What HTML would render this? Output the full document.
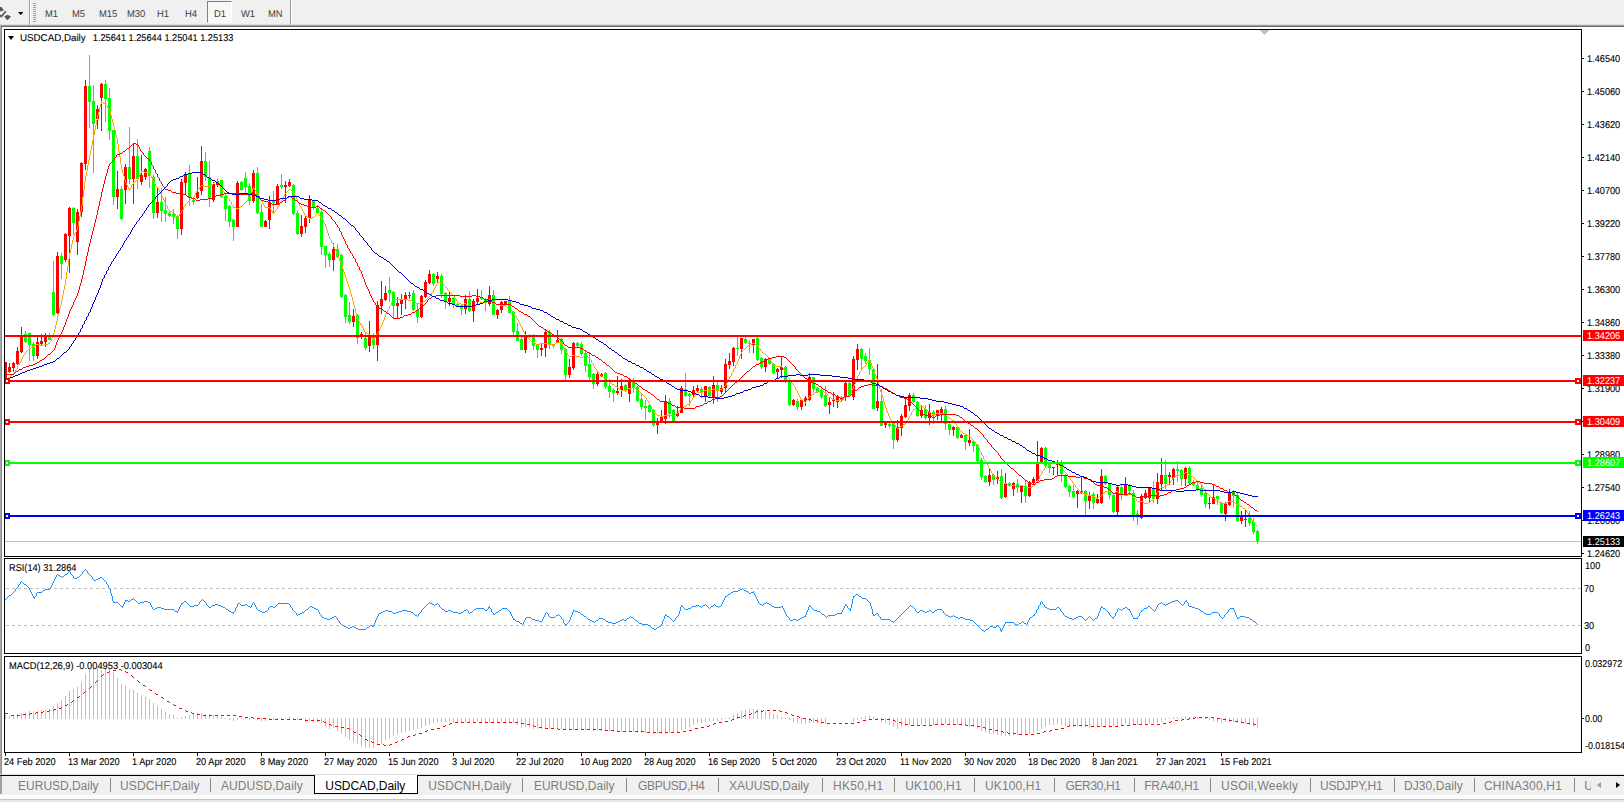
<!DOCTYPE html><html><head><meta charset="utf-8"><title>USDCAD,Daily</title><style>
html,body{margin:0;padding:0;}
body{width:1624px;height:802px;overflow:hidden;background:#fff;position:relative;font-family:"Liberation Sans",sans-serif;}
.a{position:absolute;}
.t{position:absolute;white-space:nowrap;font-size:9.9px;line-height:13px;color:#000;-webkit-text-stroke:0.1px #000;text-rendering:geometricPrecision;transform:scaleX(0.931);transform-origin:0 0;}
.tb{position:absolute;white-space:nowrap;font-size:9.9px;line-height:13px;color:#3c3c3c;top:8px;text-rendering:geometricPrecision;transform:scaleX(0.95);transform-origin:0 0;}
.pl{position:absolute;left:1583px;width:41px;height:11px;color:#fff;font-size:9.9px;line-height:11px;white-space:nowrap;text-rendering:geometricPrecision;}
.pl span{position:absolute;left:4px;top:1px;transform:scaleX(0.931);transform-origin:0 0;}
.tab{position:absolute;top:779px;font-size:12px;line-height:14px;color:#7d7d7d;white-space:nowrap;}
.sep{position:absolute;top:778px;width:1px;height:14px;background:#8a8a8a;}
svg{position:absolute;left:0;top:0;}
</style></head><body>
<div class="a" style="left:0;top:0;width:1624px;height:24px;background:#f0f0f0"></div>
<div class="a" style="left:0;top:24px;width:1624px;height:1px;background:#dddddd"></div>
<div class="a" style="left:0;top:25px;width:1624px;height:1px;background:#a0a0a0"></div>
<div class="a" style="left:0;top:26px;width:1624px;height:1px;background:#696969"></div>
<div class="a" style="left:0;top:26px;width:1px;height:748px;background:#a8a8a8"></div>
<div class="a" style="left:1px;top:27px;width:1px;height:747px;background:#8c8c8c"></div>
<div class="a" style="left:29px;top:0;width:1px;height:25px;background:#a0a0a0"></div>
<div class="a" style="left:30px;top:0;width:1px;height:25px;background:#ffffff"></div>
<div class="a" style="left:33px;top:3px;width:3px;height:1px;background:#a0a0a0"></div>
<div class="a" style="left:33px;top:5px;width:3px;height:1px;background:#a0a0a0"></div>
<div class="a" style="left:33px;top:7px;width:3px;height:1px;background:#a0a0a0"></div>
<div class="a" style="left:33px;top:9px;width:3px;height:1px;background:#a0a0a0"></div>
<div class="a" style="left:33px;top:11px;width:3px;height:1px;background:#a0a0a0"></div>
<div class="a" style="left:33px;top:13px;width:3px;height:1px;background:#a0a0a0"></div>
<div class="a" style="left:33px;top:15px;width:3px;height:1px;background:#a0a0a0"></div>
<div class="a" style="left:33px;top:17px;width:3px;height:1px;background:#a0a0a0"></div>
<div class="a" style="left:33px;top:19px;width:3px;height:1px;background:#a0a0a0"></div>
<div class="a" style="left:33px;top:21px;width:3px;height:1px;background:#a0a0a0"></div>
<div class="a" style="left:290px;top:0;width:1px;height:25px;background:#a0a0a0"></div>
<div class="a" style="left:291px;top:0;width:1px;height:25px;background:#ffffff"></div>
<svg width="30" height="24" viewBox="0 0 30 24"><polygon points="0,7 1.4,7 3.9,10.2 1.3,11.3 0,11.3" fill="#555"/><polyline points="0,15.2 1.3,16.5 5.8,11.2" stroke="#555" stroke-width="1.7" fill="none"/><polygon points="4.2,16.4 7.5,14.8 11,16.4 7.5,20.2" fill="#555"/><polygon points="18,12 23.4,12 20.7,15" fill="#000"/></svg>
<div class="a" style="left:207px;top:1px;width:25px;height:22px;background:conic-gradient(#ffffff 25%,#f0f0f0 0 50%,#ffffff 0 75%,#f0f0f0 0) 0 0/2px 2px;border-left:1px solid #808080;border-top:1px solid #808080;border-right:1px solid #fff;border-bottom:1px solid #fff;box-sizing:border-box"></div>
<div class="tb" style="left:44.7px">M1</div>
<div class="tb" style="left:72px">M5</div>
<div class="tb" style="left:98.8px">M15</div>
<div class="tb" style="left:126.5px">M30</div>
<div class="tb" style="left:157.4px">H1</div>
<div class="tb" style="left:184.7px">H4</div>
<div class="tb" style="left:213.5px">D1</div>
<div class="tb" style="left:241px">W1</div>
<div class="tb" style="left:267.8px">MN</div>
<svg width="1624" height="802" viewBox="0 0 1624 802" shape-rendering="crispEdges"><rect x="5" y="541" width="1576" height="1" fill="#c0c0c0"/>
<rect x="5" y="362" width="1" height="16" fill="#ff0000"/>
<rect x="5" y="362" width="2" height="16" fill="#ff0000"/>
<rect x="9" y="363" width="1" height="10" fill="#ff0000"/>
<rect x="8" y="367" width="3" height="5" fill="#ff0000"/>
<rect x="13" y="362" width="1" height="10" fill="#ff0000"/>
<rect x="12" y="363" width="3" height="5" fill="#ff0000"/>
<rect x="17" y="347" width="1" height="18" fill="#ff0000"/>
<rect x="16" y="351" width="3" height="13" fill="#ff0000"/>
<rect x="21" y="327" width="1" height="26" fill="#ff0000"/>
<rect x="20" y="336" width="3" height="16" fill="#ff0000"/>
<rect x="25" y="331" width="1" height="12" fill="#00ff00"/>
<rect x="24" y="334" width="3" height="8" fill="#00ff00"/>
<rect x="29" y="333" width="1" height="28" fill="#00ff00"/>
<rect x="28" y="333" width="3" height="12" fill="#00ff00"/>
<rect x="33" y="342" width="1" height="19" fill="#00ff00"/>
<rect x="32" y="344" width="3" height="12" fill="#00ff00"/>
<rect x="37" y="336" width="1" height="23" fill="#ff0000"/>
<rect x="36" y="342" width="3" height="14" fill="#ff0000"/>
<rect x="41" y="334" width="1" height="11" fill="#ff0000"/>
<rect x="40" y="341" width="3" height="3" fill="#ff0000"/>
<rect x="45" y="333" width="1" height="14" fill="#ff0000"/>
<rect x="44" y="336" width="3" height="6" fill="#ff0000"/>
<rect x="49" y="333" width="1" height="7" fill="#00ff00"/>
<rect x="48" y="336" width="3" height="4" fill="#00ff00"/>
<rect x="53" y="261" width="1" height="55" fill="#00ff00"/>
<rect x="52" y="292" width="3" height="23" fill="#00ff00"/>
<rect x="57" y="252" width="1" height="62" fill="#ff0000"/>
<rect x="56" y="256" width="3" height="57" fill="#ff0000"/>
<rect x="61" y="253" width="1" height="26" fill="#00ff00"/>
<rect x="60" y="256" width="3" height="8" fill="#00ff00"/>
<rect x="65" y="233" width="1" height="29" fill="#ff0000"/>
<rect x="64" y="234" width="3" height="26" fill="#ff0000"/>
<rect x="69" y="207" width="1" height="66" fill="#ff0000"/>
<rect x="68" y="208" width="3" height="28" fill="#ff0000"/>
<rect x="73" y="207" width="1" height="28" fill="#00ff00"/>
<rect x="72" y="208" width="3" height="15" fill="#00ff00"/>
<rect x="77" y="209" width="1" height="46" fill="#ff0000"/>
<rect x="76" y="212" width="3" height="30" fill="#ff0000"/>
<rect x="81" y="162" width="1" height="55" fill="#ff0000"/>
<rect x="80" y="163" width="3" height="49" fill="#ff0000"/>
<rect x="85" y="80" width="1" height="90" fill="#ff0000"/>
<rect x="84" y="86" width="3" height="78" fill="#ff0000"/>
<rect x="89" y="55" width="1" height="73" fill="#00ff00"/>
<rect x="88" y="86" width="3" height="16" fill="#00ff00"/>
<rect x="93" y="85" width="1" height="88" fill="#00ff00"/>
<rect x="92" y="101" width="3" height="23" fill="#00ff00"/>
<rect x="97" y="105" width="1" height="24" fill="#ff0000"/>
<rect x="96" y="109" width="3" height="10" fill="#ff0000"/>
<rect x="101" y="83" width="1" height="48" fill="#ff0000"/>
<rect x="100" y="84" width="3" height="14" fill="#ff0000"/>
<rect x="105" y="80" width="1" height="42" fill="#00ff00"/>
<rect x="104" y="84" width="3" height="15" fill="#00ff00"/>
<rect x="109" y="88" width="1" height="52" fill="#00ff00"/>
<rect x="108" y="98" width="3" height="33" fill="#00ff00"/>
<rect x="113" y="130" width="1" height="75" fill="#00ff00"/>
<rect x="112" y="130" width="3" height="67" fill="#00ff00"/>
<rect x="117" y="171" width="1" height="38" fill="#ff0000"/>
<rect x="116" y="189" width="3" height="8" fill="#ff0000"/>
<rect x="121" y="186" width="1" height="34" fill="#00ff00"/>
<rect x="120" y="189" width="3" height="30" fill="#00ff00"/>
<rect x="125" y="164" width="1" height="40" fill="#ff0000"/>
<rect x="124" y="167" width="3" height="23" fill="#ff0000"/>
<rect x="129" y="127" width="1" height="57" fill="#00ff00"/>
<rect x="128" y="167" width="3" height="12" fill="#00ff00"/>
<rect x="133" y="144" width="1" height="60" fill="#ff0000"/>
<rect x="132" y="156" width="3" height="23" fill="#ff0000"/>
<rect x="137" y="139" width="1" height="50" fill="#00ff00"/>
<rect x="136" y="156" width="3" height="23" fill="#00ff00"/>
<rect x="141" y="155" width="1" height="30" fill="#ff0000"/>
<rect x="140" y="175" width="3" height="7" fill="#ff0000"/>
<rect x="145" y="168" width="1" height="12" fill="#ff0000"/>
<rect x="144" y="169" width="3" height="8" fill="#ff0000"/>
<rect x="149" y="147" width="1" height="41" fill="#00ff00"/>
<rect x="148" y="151" width="3" height="25" fill="#00ff00"/>
<rect x="153" y="174" width="1" height="45" fill="#00ff00"/>
<rect x="152" y="177" width="3" height="36" fill="#00ff00"/>
<rect x="157" y="187" width="1" height="31" fill="#ff0000"/>
<rect x="156" y="202" width="3" height="11" fill="#ff0000"/>
<rect x="161" y="188" width="1" height="34" fill="#00ff00"/>
<rect x="160" y="202" width="3" height="9" fill="#00ff00"/>
<rect x="165" y="197" width="1" height="25" fill="#00ff00"/>
<rect x="164" y="210" width="3" height="4" fill="#00ff00"/>
<rect x="169" y="212" width="1" height="5" fill="#00ff00"/>
<rect x="168" y="213" width="3" height="3" fill="#00ff00"/>
<rect x="173" y="209" width="1" height="15" fill="#00ff00"/>
<rect x="172" y="214" width="3" height="3" fill="#00ff00"/>
<rect x="177" y="215" width="1" height="24" fill="#00ff00"/>
<rect x="176" y="216" width="3" height="13" fill="#00ff00"/>
<rect x="181" y="179" width="1" height="56" fill="#ff0000"/>
<rect x="180" y="182" width="3" height="47" fill="#ff0000"/>
<rect x="185" y="172" width="1" height="22" fill="#ff0000"/>
<rect x="184" y="174" width="3" height="9" fill="#ff0000"/>
<rect x="189" y="165" width="1" height="41" fill="#00ff00"/>
<rect x="188" y="174" width="3" height="24" fill="#00ff00"/>
<rect x="193" y="199" width="1" height="6" fill="#00ff00"/>
<rect x="192" y="200" width="3" height="2" fill="#00ff00"/>
<rect x="197" y="177" width="1" height="22" fill="#ff0000"/>
<rect x="196" y="192" width="3" height="6" fill="#ff0000"/>
<rect x="201" y="146" width="1" height="49" fill="#ff0000"/>
<rect x="200" y="161" width="3" height="30" fill="#ff0000"/>
<rect x="205" y="152" width="1" height="29" fill="#00ff00"/>
<rect x="204" y="161" width="3" height="16" fill="#00ff00"/>
<rect x="209" y="161" width="1" height="46" fill="#00ff00"/>
<rect x="208" y="177" width="3" height="22" fill="#00ff00"/>
<rect x="213" y="182" width="1" height="20" fill="#ff0000"/>
<rect x="212" y="184" width="3" height="16" fill="#ff0000"/>
<rect x="217" y="179" width="1" height="8" fill="#ff0000"/>
<rect x="216" y="181" width="3" height="4" fill="#ff0000"/>
<rect x="221" y="180" width="1" height="18" fill="#00ff00"/>
<rect x="220" y="180" width="3" height="17" fill="#00ff00"/>
<rect x="225" y="195" width="1" height="26" fill="#00ff00"/>
<rect x="224" y="196" width="3" height="13" fill="#00ff00"/>
<rect x="229" y="205" width="1" height="22" fill="#00ff00"/>
<rect x="228" y="206" width="3" height="16" fill="#00ff00"/>
<rect x="233" y="219" width="1" height="22" fill="#00ff00"/>
<rect x="232" y="220" width="3" height="7" fill="#00ff00"/>
<rect x="237" y="181" width="1" height="46" fill="#ff0000"/>
<rect x="236" y="183" width="3" height="44" fill="#ff0000"/>
<rect x="241" y="181" width="1" height="10" fill="#00ff00"/>
<rect x="240" y="182" width="3" height="8" fill="#00ff00"/>
<rect x="245" y="172" width="1" height="21" fill="#00ff00"/>
<rect x="244" y="178" width="3" height="9" fill="#00ff00"/>
<rect x="249" y="183" width="1" height="22" fill="#00ff00"/>
<rect x="248" y="186" width="3" height="15" fill="#00ff00"/>
<rect x="253" y="170" width="1" height="33" fill="#ff0000"/>
<rect x="252" y="173" width="3" height="28" fill="#ff0000"/>
<rect x="257" y="167" width="1" height="47" fill="#00ff00"/>
<rect x="256" y="173" width="3" height="40" fill="#00ff00"/>
<rect x="261" y="204" width="1" height="23" fill="#00ff00"/>
<rect x="260" y="212" width="3" height="15" fill="#00ff00"/>
<rect x="265" y="220" width="1" height="7" fill="#ff0000"/>
<rect x="264" y="221" width="3" height="6" fill="#ff0000"/>
<rect x="269" y="196" width="1" height="33" fill="#ff0000"/>
<rect x="268" y="202" width="3" height="18" fill="#ff0000"/>
<rect x="273" y="191" width="1" height="23" fill="#00ff00"/>
<rect x="272" y="200" width="3" height="3" fill="#00ff00"/>
<rect x="277" y="184" width="1" height="21" fill="#ff0000"/>
<rect x="276" y="186" width="3" height="19" fill="#ff0000"/>
<rect x="281" y="174" width="1" height="15" fill="#00ff00"/>
<rect x="280" y="185" width="3" height="2" fill="#00ff00"/>
<rect x="285" y="181" width="1" height="22" fill="#ff0000"/>
<rect x="284" y="185" width="3" height="2" fill="#ff0000"/>
<rect x="289" y="179" width="1" height="8" fill="#ff0000"/>
<rect x="288" y="182" width="3" height="4" fill="#ff0000"/>
<rect x="293" y="184" width="1" height="31" fill="#00ff00"/>
<rect x="292" y="185" width="3" height="29" fill="#00ff00"/>
<rect x="297" y="210" width="1" height="25" fill="#00ff00"/>
<rect x="296" y="213" width="3" height="21" fill="#00ff00"/>
<rect x="301" y="215" width="1" height="22" fill="#ff0000"/>
<rect x="300" y="226" width="3" height="8" fill="#ff0000"/>
<rect x="305" y="215" width="1" height="18" fill="#ff0000"/>
<rect x="304" y="218" width="3" height="9" fill="#ff0000"/>
<rect x="309" y="195" width="1" height="28" fill="#ff0000"/>
<rect x="308" y="200" width="3" height="18" fill="#ff0000"/>
<rect x="313" y="200" width="1" height="10" fill="#00ff00"/>
<rect x="312" y="201" width="3" height="7" fill="#00ff00"/>
<rect x="317" y="205" width="1" height="9" fill="#00ff00"/>
<rect x="316" y="208" width="3" height="5" fill="#00ff00"/>
<rect x="321" y="209" width="1" height="46" fill="#00ff00"/>
<rect x="320" y="212" width="3" height="35" fill="#00ff00"/>
<rect x="325" y="246" width="1" height="22" fill="#00ff00"/>
<rect x="324" y="246" width="3" height="9" fill="#00ff00"/>
<rect x="329" y="252" width="1" height="15" fill="#00ff00"/>
<rect x="328" y="254" width="3" height="6" fill="#00ff00"/>
<rect x="333" y="243" width="1" height="28" fill="#ff0000"/>
<rect x="332" y="249" width="3" height="11" fill="#ff0000"/>
<rect x="337" y="244" width="1" height="14" fill="#00ff00"/>
<rect x="336" y="249" width="3" height="8" fill="#00ff00"/>
<rect x="341" y="254" width="1" height="44" fill="#00ff00"/>
<rect x="340" y="255" width="3" height="42" fill="#00ff00"/>
<rect x="345" y="294" width="1" height="29" fill="#00ff00"/>
<rect x="344" y="295" width="3" height="22" fill="#00ff00"/>
<rect x="349" y="302" width="1" height="22" fill="#00ff00"/>
<rect x="348" y="315" width="3" height="7" fill="#00ff00"/>
<rect x="353" y="309" width="1" height="18" fill="#ff0000"/>
<rect x="352" y="316" width="3" height="6" fill="#ff0000"/>
<rect x="357" y="314" width="1" height="30" fill="#00ff00"/>
<rect x="356" y="315" width="3" height="23" fill="#00ff00"/>
<rect x="361" y="332" width="1" height="7" fill="#ff0000"/>
<rect x="360" y="334" width="3" height="2" fill="#ff0000"/>
<rect x="365" y="333" width="1" height="17" fill="#00ff00"/>
<rect x="364" y="338" width="3" height="10" fill="#00ff00"/>
<rect x="369" y="321" width="1" height="31" fill="#ff0000"/>
<rect x="368" y="335" width="3" height="11" fill="#ff0000"/>
<rect x="373" y="333" width="1" height="16" fill="#00ff00"/>
<rect x="372" y="335" width="3" height="10" fill="#00ff00"/>
<rect x="377" y="301" width="1" height="60" fill="#ff0000"/>
<rect x="376" y="305" width="3" height="40" fill="#ff0000"/>
<rect x="381" y="281" width="1" height="33" fill="#ff0000"/>
<rect x="380" y="299" width="3" height="7" fill="#ff0000"/>
<rect x="385" y="286" width="1" height="15" fill="#ff0000"/>
<rect x="384" y="293" width="3" height="7" fill="#ff0000"/>
<rect x="389" y="277" width="1" height="25" fill="#00ff00"/>
<rect x="388" y="290" width="3" height="3" fill="#00ff00"/>
<rect x="393" y="291" width="1" height="27" fill="#00ff00"/>
<rect x="392" y="292" width="3" height="14" fill="#00ff00"/>
<rect x="397" y="297" width="1" height="21" fill="#ff0000"/>
<rect x="396" y="303" width="3" height="3" fill="#ff0000"/>
<rect x="401" y="294" width="1" height="21" fill="#ff0000"/>
<rect x="400" y="300" width="3" height="4" fill="#ff0000"/>
<rect x="405" y="292" width="1" height="17" fill="#ff0000"/>
<rect x="404" y="295" width="3" height="4" fill="#ff0000"/>
<rect x="409" y="292" width="1" height="7" fill="#ff0000"/>
<rect x="408" y="295" width="3" height="1" fill="#ff0000"/>
<rect x="413" y="290" width="1" height="21" fill="#00ff00"/>
<rect x="412" y="293" width="3" height="17" fill="#00ff00"/>
<rect x="417" y="304" width="1" height="19" fill="#00ff00"/>
<rect x="416" y="310" width="3" height="7" fill="#00ff00"/>
<rect x="421" y="295" width="1" height="23" fill="#ff0000"/>
<rect x="420" y="296" width="3" height="21" fill="#ff0000"/>
<rect x="425" y="280" width="1" height="18" fill="#ff0000"/>
<rect x="424" y="282" width="3" height="15" fill="#ff0000"/>
<rect x="429" y="270" width="1" height="14" fill="#ff0000"/>
<rect x="428" y="274" width="3" height="9" fill="#ff0000"/>
<rect x="433" y="273" width="1" height="13" fill="#00ff00"/>
<rect x="432" y="274" width="3" height="10" fill="#00ff00"/>
<rect x="437" y="272" width="1" height="11" fill="#ff0000"/>
<rect x="436" y="276" width="3" height="3" fill="#ff0000"/>
<rect x="441" y="274" width="1" height="24" fill="#00ff00"/>
<rect x="440" y="276" width="3" height="18" fill="#00ff00"/>
<rect x="445" y="292" width="1" height="17" fill="#00ff00"/>
<rect x="444" y="293" width="3" height="8" fill="#00ff00"/>
<rect x="449" y="291" width="1" height="15" fill="#ff0000"/>
<rect x="448" y="298" width="3" height="4" fill="#ff0000"/>
<rect x="453" y="297" width="1" height="11" fill="#00ff00"/>
<rect x="452" y="298" width="3" height="6" fill="#00ff00"/>
<rect x="457" y="303" width="1" height="4" fill="#00ff00"/>
<rect x="456" y="304" width="3" height="2" fill="#00ff00"/>
<rect x="461" y="304" width="1" height="11" fill="#00ff00"/>
<rect x="460" y="305" width="3" height="4" fill="#00ff00"/>
<rect x="465" y="295" width="1" height="19" fill="#ff0000"/>
<rect x="464" y="299" width="3" height="10" fill="#ff0000"/>
<rect x="469" y="291" width="1" height="21" fill="#00ff00"/>
<rect x="468" y="299" width="3" height="12" fill="#00ff00"/>
<rect x="473" y="299" width="1" height="23" fill="#ff0000"/>
<rect x="472" y="301" width="3" height="10" fill="#ff0000"/>
<rect x="477" y="289" width="1" height="15" fill="#ff0000"/>
<rect x="476" y="298" width="3" height="4" fill="#ff0000"/>
<rect x="481" y="290" width="1" height="10" fill="#00ff00"/>
<rect x="480" y="297" width="3" height="2" fill="#00ff00"/>
<rect x="485" y="298" width="1" height="13" fill="#00ff00"/>
<rect x="484" y="299" width="3" height="4" fill="#00ff00"/>
<rect x="489" y="286" width="1" height="20" fill="#ff0000"/>
<rect x="488" y="295" width="3" height="9" fill="#ff0000"/>
<rect x="493" y="290" width="1" height="25" fill="#00ff00"/>
<rect x="492" y="295" width="3" height="20" fill="#00ff00"/>
<rect x="497" y="309" width="1" height="10" fill="#ff0000"/>
<rect x="496" y="310" width="3" height="5" fill="#ff0000"/>
<rect x="501" y="301" width="1" height="12" fill="#ff0000"/>
<rect x="500" y="302" width="3" height="8" fill="#ff0000"/>
<rect x="505" y="301" width="1" height="4" fill="#ff0000"/>
<rect x="504" y="301" width="3" height="3" fill="#ff0000"/>
<rect x="509" y="296" width="1" height="17" fill="#00ff00"/>
<rect x="508" y="301" width="3" height="12" fill="#00ff00"/>
<rect x="513" y="311" width="1" height="24" fill="#00ff00"/>
<rect x="512" y="312" width="3" height="20" fill="#00ff00"/>
<rect x="517" y="323" width="1" height="18" fill="#00ff00"/>
<rect x="516" y="331" width="3" height="10" fill="#00ff00"/>
<rect x="521" y="337" width="1" height="13" fill="#00ff00"/>
<rect x="520" y="339" width="3" height="11" fill="#00ff00"/>
<rect x="525" y="331" width="1" height="22" fill="#ff0000"/>
<rect x="524" y="335" width="3" height="15" fill="#ff0000"/>
<rect x="529" y="334" width="1" height="4" fill="#00ff00"/>
<rect x="528" y="335" width="3" height="2" fill="#00ff00"/>
<rect x="533" y="334" width="1" height="16" fill="#00ff00"/>
<rect x="532" y="335" width="3" height="11" fill="#00ff00"/>
<rect x="537" y="344" width="1" height="14" fill="#00ff00"/>
<rect x="536" y="345" width="3" height="5" fill="#00ff00"/>
<rect x="541" y="344" width="1" height="12" fill="#ff0000"/>
<rect x="540" y="348" width="3" height="2" fill="#ff0000"/>
<rect x="545" y="329" width="1" height="28" fill="#ff0000"/>
<rect x="544" y="332" width="3" height="16" fill="#ff0000"/>
<rect x="549" y="330" width="1" height="19" fill="#00ff00"/>
<rect x="548" y="332" width="3" height="12" fill="#00ff00"/>
<rect x="553" y="344" width="1" height="4" fill="#00ff00"/>
<rect x="552" y="345" width="3" height="1" fill="#00ff00"/>
<rect x="557" y="330" width="1" height="13" fill="#ff0000"/>
<rect x="556" y="340" width="3" height="2" fill="#ff0000"/>
<rect x="561" y="338" width="1" height="16" fill="#00ff00"/>
<rect x="560" y="339" width="3" height="11" fill="#00ff00"/>
<rect x="565" y="348" width="1" height="32" fill="#00ff00"/>
<rect x="564" y="349" width="3" height="26" fill="#00ff00"/>
<rect x="569" y="359" width="1" height="19" fill="#ff0000"/>
<rect x="568" y="367" width="3" height="8" fill="#ff0000"/>
<rect x="573" y="342" width="1" height="28" fill="#ff0000"/>
<rect x="572" y="343" width="3" height="25" fill="#ff0000"/>
<rect x="577" y="342" width="1" height="5" fill="#00ff00"/>
<rect x="576" y="343" width="3" height="3" fill="#00ff00"/>
<rect x="581" y="342" width="1" height="14" fill="#00ff00"/>
<rect x="580" y="344" width="3" height="10" fill="#00ff00"/>
<rect x="585" y="351" width="1" height="21" fill="#00ff00"/>
<rect x="584" y="353" width="3" height="13" fill="#00ff00"/>
<rect x="589" y="352" width="1" height="28" fill="#00ff00"/>
<rect x="588" y="364" width="3" height="13" fill="#00ff00"/>
<rect x="593" y="373" width="1" height="16" fill="#00ff00"/>
<rect x="592" y="374" width="3" height="10" fill="#00ff00"/>
<rect x="597" y="371" width="1" height="15" fill="#ff0000"/>
<rect x="596" y="374" width="3" height="10" fill="#ff0000"/>
<rect x="601" y="373" width="1" height="4" fill="#ff0000"/>
<rect x="600" y="374" width="3" height="2" fill="#ff0000"/>
<rect x="605" y="372" width="1" height="17" fill="#00ff00"/>
<rect x="604" y="373" width="3" height="14" fill="#00ff00"/>
<rect x="609" y="379" width="1" height="19" fill="#00ff00"/>
<rect x="608" y="386" width="3" height="6" fill="#00ff00"/>
<rect x="613" y="388" width="1" height="14" fill="#00ff00"/>
<rect x="612" y="390" width="3" height="3" fill="#00ff00"/>
<rect x="617" y="376" width="1" height="19" fill="#ff0000"/>
<rect x="616" y="391" width="3" height="2" fill="#ff0000"/>
<rect x="621" y="379" width="1" height="18" fill="#ff0000"/>
<rect x="620" y="386" width="3" height="4" fill="#ff0000"/>
<rect x="625" y="384" width="1" height="8" fill="#00ff00"/>
<rect x="624" y="385" width="3" height="5" fill="#00ff00"/>
<rect x="629" y="379" width="1" height="23" fill="#ff0000"/>
<rect x="628" y="380" width="3" height="14" fill="#ff0000"/>
<rect x="633" y="378" width="1" height="15" fill="#00ff00"/>
<rect x="632" y="380" width="3" height="8" fill="#00ff00"/>
<rect x="637" y="386" width="1" height="16" fill="#00ff00"/>
<rect x="636" y="387" width="3" height="14" fill="#00ff00"/>
<rect x="641" y="393" width="1" height="17" fill="#00ff00"/>
<rect x="640" y="399" width="3" height="8" fill="#00ff00"/>
<rect x="645" y="400" width="1" height="20" fill="#00ff00"/>
<rect x="644" y="406" width="3" height="2" fill="#00ff00"/>
<rect x="649" y="403" width="1" height="10" fill="#00ff00"/>
<rect x="648" y="405" width="3" height="7" fill="#00ff00"/>
<rect x="653" y="409" width="1" height="18" fill="#00ff00"/>
<rect x="652" y="410" width="3" height="15" fill="#00ff00"/>
<rect x="657" y="418" width="1" height="16" fill="#ff0000"/>
<rect x="656" y="421" width="3" height="4" fill="#ff0000"/>
<rect x="661" y="410" width="1" height="13" fill="#ff0000"/>
<rect x="660" y="416" width="3" height="6" fill="#ff0000"/>
<rect x="665" y="395" width="1" height="29" fill="#ff0000"/>
<rect x="664" y="401" width="3" height="18" fill="#ff0000"/>
<rect x="669" y="398" width="1" height="20" fill="#00ff00"/>
<rect x="668" y="401" width="3" height="13" fill="#00ff00"/>
<rect x="673" y="409" width="1" height="13" fill="#00ff00"/>
<rect x="672" y="410" width="3" height="11" fill="#00ff00"/>
<rect x="677" y="406" width="1" height="11" fill="#ff0000"/>
<rect x="676" y="413" width="3" height="3" fill="#ff0000"/>
<rect x="681" y="386" width="1" height="27" fill="#ff0000"/>
<rect x="680" y="388" width="3" height="25" fill="#ff0000"/>
<rect x="685" y="373" width="1" height="24" fill="#00ff00"/>
<rect x="684" y="389" width="3" height="7" fill="#00ff00"/>
<rect x="689" y="393" width="1" height="13" fill="#00ff00"/>
<rect x="688" y="394" width="3" height="2" fill="#00ff00"/>
<rect x="693" y="386" width="1" height="11" fill="#ff0000"/>
<rect x="692" y="390" width="3" height="5" fill="#ff0000"/>
<rect x="697" y="385" width="1" height="7" fill="#ff0000"/>
<rect x="696" y="388" width="3" height="3" fill="#ff0000"/>
<rect x="701" y="387" width="1" height="11" fill="#00ff00"/>
<rect x="700" y="389" width="3" height="3" fill="#00ff00"/>
<rect x="705" y="386" width="1" height="16" fill="#ff0000"/>
<rect x="704" y="386" width="3" height="10" fill="#ff0000"/>
<rect x="709" y="386" width="1" height="11" fill="#00ff00"/>
<rect x="708" y="387" width="3" height="9" fill="#00ff00"/>
<rect x="713" y="376" width="1" height="28" fill="#ff0000"/>
<rect x="712" y="385" width="3" height="12" fill="#ff0000"/>
<rect x="717" y="382" width="1" height="20" fill="#00ff00"/>
<rect x="716" y="385" width="3" height="6" fill="#00ff00"/>
<rect x="721" y="385" width="1" height="9" fill="#ff0000"/>
<rect x="720" y="388" width="3" height="4" fill="#ff0000"/>
<rect x="725" y="359" width="1" height="34" fill="#ff0000"/>
<rect x="724" y="364" width="3" height="24" fill="#ff0000"/>
<rect x="729" y="353" width="1" height="16" fill="#ff0000"/>
<rect x="728" y="361" width="3" height="4" fill="#ff0000"/>
<rect x="733" y="347" width="1" height="19" fill="#ff0000"/>
<rect x="732" y="348" width="3" height="14" fill="#ff0000"/>
<rect x="737" y="337" width="1" height="19" fill="#00ff00"/>
<rect x="736" y="348" width="3" height="1" fill="#00ff00"/>
<rect x="741" y="338" width="1" height="21" fill="#ff0000"/>
<rect x="740" y="338" width="3" height="11" fill="#ff0000"/>
<rect x="745" y="337" width="1" height="7" fill="#00ff00"/>
<rect x="744" y="339" width="3" height="4" fill="#00ff00"/>
<rect x="749" y="340" width="1" height="13" fill="#00ff00"/>
<rect x="748" y="343" width="3" height="1" fill="#00ff00"/>
<rect x="753" y="339" width="1" height="14" fill="#ff0000"/>
<rect x="752" y="339" width="3" height="6" fill="#ff0000"/>
<rect x="757" y="337" width="1" height="24" fill="#00ff00"/>
<rect x="756" y="338" width="3" height="22" fill="#00ff00"/>
<rect x="761" y="357" width="1" height="12" fill="#00ff00"/>
<rect x="760" y="358" width="3" height="9" fill="#00ff00"/>
<rect x="765" y="358" width="1" height="14" fill="#ff0000"/>
<rect x="764" y="359" width="3" height="8" fill="#ff0000"/>
<rect x="769" y="358" width="1" height="7" fill="#00ff00"/>
<rect x="768" y="359" width="3" height="5" fill="#00ff00"/>
<rect x="773" y="363" width="1" height="11" fill="#00ff00"/>
<rect x="772" y="364" width="3" height="9" fill="#00ff00"/>
<rect x="777" y="368" width="1" height="10" fill="#ff0000"/>
<rect x="776" y="369" width="3" height="3" fill="#ff0000"/>
<rect x="781" y="356" width="1" height="22" fill="#ff0000"/>
<rect x="780" y="367" width="3" height="3" fill="#ff0000"/>
<rect x="785" y="366" width="1" height="17" fill="#00ff00"/>
<rect x="784" y="367" width="3" height="14" fill="#00ff00"/>
<rect x="789" y="380" width="1" height="26" fill="#00ff00"/>
<rect x="788" y="381" width="3" height="24" fill="#00ff00"/>
<rect x="793" y="399" width="1" height="7" fill="#ff0000"/>
<rect x="792" y="400" width="3" height="5" fill="#ff0000"/>
<rect x="797" y="399" width="1" height="11" fill="#00ff00"/>
<rect x="796" y="401" width="3" height="6" fill="#00ff00"/>
<rect x="801" y="399" width="1" height="11" fill="#ff0000"/>
<rect x="800" y="400" width="3" height="7" fill="#ff0000"/>
<rect x="805" y="396" width="1" height="10" fill="#ff0000"/>
<rect x="804" y="398" width="3" height="4" fill="#ff0000"/>
<rect x="809" y="373" width="1" height="28" fill="#ff0000"/>
<rect x="808" y="377" width="3" height="23" fill="#ff0000"/>
<rect x="813" y="377" width="1" height="16" fill="#00ff00"/>
<rect x="812" y="377" width="3" height="12" fill="#00ff00"/>
<rect x="817" y="387" width="1" height="6" fill="#00ff00"/>
<rect x="816" y="388" width="3" height="4" fill="#00ff00"/>
<rect x="821" y="387" width="1" height="12" fill="#00ff00"/>
<rect x="820" y="390" width="3" height="7" fill="#00ff00"/>
<rect x="825" y="386" width="1" height="21" fill="#00ff00"/>
<rect x="824" y="395" width="3" height="11" fill="#00ff00"/>
<rect x="829" y="397" width="1" height="17" fill="#ff0000"/>
<rect x="828" y="402" width="3" height="3" fill="#ff0000"/>
<rect x="833" y="392" width="1" height="15" fill="#ff0000"/>
<rect x="832" y="399" width="3" height="2" fill="#ff0000"/>
<rect x="837" y="395" width="1" height="13" fill="#ff0000"/>
<rect x="836" y="397" width="3" height="5" fill="#ff0000"/>
<rect x="841" y="396" width="1" height="5" fill="#00ff00"/>
<rect x="840" y="397" width="3" height="3" fill="#00ff00"/>
<rect x="845" y="382" width="1" height="19" fill="#ff0000"/>
<rect x="844" y="383" width="3" height="14" fill="#ff0000"/>
<rect x="849" y="382" width="1" height="15" fill="#00ff00"/>
<rect x="848" y="383" width="3" height="13" fill="#00ff00"/>
<rect x="853" y="356" width="1" height="44" fill="#ff0000"/>
<rect x="852" y="359" width="3" height="38" fill="#ff0000"/>
<rect x="857" y="344" width="1" height="26" fill="#ff0000"/>
<rect x="856" y="349" width="3" height="11" fill="#ff0000"/>
<rect x="861" y="348" width="1" height="21" fill="#00ff00"/>
<rect x="860" y="349" width="3" height="10" fill="#00ff00"/>
<rect x="865" y="353" width="1" height="11" fill="#00ff00"/>
<rect x="864" y="356" width="3" height="5" fill="#00ff00"/>
<rect x="869" y="348" width="1" height="27" fill="#00ff00"/>
<rect x="868" y="360" width="3" height="9" fill="#00ff00"/>
<rect x="873" y="368" width="1" height="41" fill="#00ff00"/>
<rect x="872" y="369" width="3" height="40" fill="#00ff00"/>
<rect x="877" y="364" width="1" height="47" fill="#ff0000"/>
<rect x="876" y="401" width="3" height="7" fill="#ff0000"/>
<rect x="881" y="389" width="1" height="37" fill="#00ff00"/>
<rect x="880" y="401" width="3" height="25" fill="#00ff00"/>
<rect x="885" y="422" width="1" height="6" fill="#ff0000"/>
<rect x="884" y="423" width="3" height="2" fill="#ff0000"/>
<rect x="889" y="423" width="1" height="5" fill="#00ff00"/>
<rect x="888" y="424" width="3" height="2" fill="#00ff00"/>
<rect x="893" y="422" width="1" height="27" fill="#00ff00"/>
<rect x="892" y="423" width="3" height="17" fill="#00ff00"/>
<rect x="897" y="420" width="1" height="22" fill="#ff0000"/>
<rect x="896" y="427" width="3" height="13" fill="#ff0000"/>
<rect x="901" y="414" width="1" height="22" fill="#ff0000"/>
<rect x="900" y="416" width="3" height="12" fill="#ff0000"/>
<rect x="905" y="398" width="1" height="20" fill="#ff0000"/>
<rect x="904" y="405" width="3" height="12" fill="#ff0000"/>
<rect x="909" y="393" width="1" height="18" fill="#ff0000"/>
<rect x="908" y="395" width="3" height="11" fill="#ff0000"/>
<rect x="913" y="393" width="1" height="10" fill="#00ff00"/>
<rect x="912" y="395" width="3" height="7" fill="#00ff00"/>
<rect x="917" y="401" width="1" height="16" fill="#00ff00"/>
<rect x="916" y="402" width="3" height="14" fill="#00ff00"/>
<rect x="921" y="405" width="1" height="13" fill="#ff0000"/>
<rect x="920" y="410" width="3" height="6" fill="#ff0000"/>
<rect x="925" y="405" width="1" height="15" fill="#00ff00"/>
<rect x="924" y="409" width="3" height="9" fill="#00ff00"/>
<rect x="929" y="404" width="1" height="21" fill="#ff0000"/>
<rect x="928" y="412" width="3" height="6" fill="#ff0000"/>
<rect x="933" y="410" width="1" height="14" fill="#00ff00"/>
<rect x="932" y="412" width="3" height="4" fill="#00ff00"/>
<rect x="937" y="410" width="1" height="10" fill="#ff0000"/>
<rect x="936" y="410" width="3" height="6" fill="#ff0000"/>
<rect x="941" y="407" width="1" height="14" fill="#ff0000"/>
<rect x="940" y="409" width="3" height="4" fill="#ff0000"/>
<rect x="945" y="406" width="1" height="24" fill="#00ff00"/>
<rect x="944" y="409" width="3" height="15" fill="#00ff00"/>
<rect x="949" y="423" width="1" height="12" fill="#00ff00"/>
<rect x="948" y="424" width="3" height="6" fill="#00ff00"/>
<rect x="953" y="426" width="1" height="10" fill="#ff0000"/>
<rect x="952" y="427" width="3" height="3" fill="#ff0000"/>
<rect x="957" y="426" width="1" height="13" fill="#00ff00"/>
<rect x="956" y="427" width="3" height="11" fill="#00ff00"/>
<rect x="961" y="434" width="1" height="4" fill="#ff0000"/>
<rect x="960" y="435" width="3" height="3" fill="#ff0000"/>
<rect x="965" y="434" width="1" height="16" fill="#00ff00"/>
<rect x="964" y="435" width="3" height="7" fill="#00ff00"/>
<rect x="969" y="429" width="1" height="17" fill="#ff0000"/>
<rect x="968" y="440" width="3" height="3" fill="#ff0000"/>
<rect x="973" y="440" width="1" height="12" fill="#00ff00"/>
<rect x="972" y="441" width="3" height="5" fill="#00ff00"/>
<rect x="977" y="444" width="1" height="18" fill="#00ff00"/>
<rect x="976" y="445" width="3" height="16" fill="#00ff00"/>
<rect x="981" y="458" width="1" height="22" fill="#00ff00"/>
<rect x="980" y="460" width="3" height="17" fill="#00ff00"/>
<rect x="985" y="475" width="1" height="8" fill="#00ff00"/>
<rect x="984" y="476" width="3" height="6" fill="#00ff00"/>
<rect x="989" y="469" width="1" height="17" fill="#ff0000"/>
<rect x="988" y="475" width="3" height="7" fill="#ff0000"/>
<rect x="993" y="474" width="1" height="11" fill="#00ff00"/>
<rect x="992" y="475" width="3" height="5" fill="#00ff00"/>
<rect x="997" y="471" width="1" height="13" fill="#ff0000"/>
<rect x="996" y="477" width="3" height="2" fill="#ff0000"/>
<rect x="1001" y="469" width="1" height="30" fill="#00ff00"/>
<rect x="1000" y="476" width="3" height="22" fill="#00ff00"/>
<rect x="1005" y="473" width="1" height="25" fill="#ff0000"/>
<rect x="1004" y="483" width="3" height="14" fill="#ff0000"/>
<rect x="1009" y="482" width="1" height="5" fill="#00ff00"/>
<rect x="1008" y="483" width="3" height="2" fill="#00ff00"/>
<rect x="1013" y="482" width="1" height="14" fill="#ff0000"/>
<rect x="1012" y="483" width="3" height="6" fill="#ff0000"/>
<rect x="1017" y="479" width="1" height="14" fill="#00ff00"/>
<rect x="1016" y="484" width="3" height="3" fill="#00ff00"/>
<rect x="1021" y="485" width="1" height="18" fill="#ff0000"/>
<rect x="1020" y="486" width="3" height="6" fill="#ff0000"/>
<rect x="1025" y="481" width="1" height="22" fill="#00ff00"/>
<rect x="1024" y="486" width="3" height="10" fill="#00ff00"/>
<rect x="1029" y="481" width="1" height="16" fill="#ff0000"/>
<rect x="1028" y="482" width="3" height="14" fill="#ff0000"/>
<rect x="1033" y="477" width="1" height="7" fill="#ff0000"/>
<rect x="1032" y="479" width="3" height="4" fill="#ff0000"/>
<rect x="1037" y="441" width="1" height="42" fill="#ff0000"/>
<rect x="1036" y="462" width="3" height="19" fill="#ff0000"/>
<rect x="1041" y="447" width="1" height="16" fill="#ff0000"/>
<rect x="1040" y="448" width="3" height="14" fill="#ff0000"/>
<rect x="1045" y="447" width="1" height="21" fill="#00ff00"/>
<rect x="1044" y="448" width="3" height="18" fill="#00ff00"/>
<rect x="1049" y="463" width="1" height="10" fill="#00ff00"/>
<rect x="1048" y="464" width="3" height="4" fill="#00ff00"/>
<rect x="1053" y="467" width="1" height="8" fill="#ff0000"/>
<rect x="1052" y="467" width="3" height="1" fill="#ff0000"/>
<rect x="1057" y="460" width="1" height="15" fill="#ff0000"/>
<rect x="1056" y="463" width="3" height="2" fill="#ff0000"/>
<rect x="1061" y="460" width="1" height="22" fill="#00ff00"/>
<rect x="1060" y="464" width="3" height="10" fill="#00ff00"/>
<rect x="1065" y="474" width="1" height="14" fill="#00ff00"/>
<rect x="1064" y="475" width="3" height="12" fill="#00ff00"/>
<rect x="1069" y="485" width="1" height="12" fill="#00ff00"/>
<rect x="1068" y="486" width="3" height="6" fill="#00ff00"/>
<rect x="1073" y="485" width="1" height="13" fill="#00ff00"/>
<rect x="1072" y="491" width="3" height="6" fill="#00ff00"/>
<rect x="1077" y="490" width="1" height="18" fill="#ff0000"/>
<rect x="1076" y="491" width="3" height="3" fill="#ff0000"/>
<rect x="1081" y="476" width="1" height="18" fill="#ff0000"/>
<rect x="1080" y="491" width="3" height="2" fill="#ff0000"/>
<rect x="1085" y="490" width="1" height="25" fill="#00ff00"/>
<rect x="1084" y="491" width="3" height="10" fill="#00ff00"/>
<rect x="1089" y="492" width="1" height="17" fill="#ff0000"/>
<rect x="1088" y="495" width="3" height="6" fill="#ff0000"/>
<rect x="1093" y="492" width="1" height="17" fill="#00ff00"/>
<rect x="1092" y="494" width="3" height="9" fill="#00ff00"/>
<rect x="1097" y="494" width="1" height="10" fill="#ff0000"/>
<rect x="1096" y="499" width="3" height="4" fill="#ff0000"/>
<rect x="1101" y="469" width="1" height="35" fill="#ff0000"/>
<rect x="1100" y="476" width="3" height="27" fill="#ff0000"/>
<rect x="1105" y="475" width="1" height="10" fill="#00ff00"/>
<rect x="1104" y="476" width="3" height="8" fill="#00ff00"/>
<rect x="1109" y="483" width="1" height="16" fill="#00ff00"/>
<rect x="1108" y="484" width="3" height="11" fill="#00ff00"/>
<rect x="1113" y="493" width="1" height="20" fill="#00ff00"/>
<rect x="1112" y="495" width="3" height="17" fill="#00ff00"/>
<rect x="1117" y="485" width="1" height="30" fill="#ff0000"/>
<rect x="1116" y="487" width="3" height="25" fill="#ff0000"/>
<rect x="1121" y="485" width="1" height="15" fill="#00ff00"/>
<rect x="1120" y="487" width="3" height="7" fill="#00ff00"/>
<rect x="1125" y="477" width="1" height="18" fill="#ff0000"/>
<rect x="1124" y="485" width="3" height="9" fill="#ff0000"/>
<rect x="1129" y="484" width="1" height="9" fill="#00ff00"/>
<rect x="1128" y="485" width="3" height="6" fill="#00ff00"/>
<rect x="1133" y="490" width="1" height="31" fill="#00ff00"/>
<rect x="1132" y="493" width="3" height="23" fill="#00ff00"/>
<rect x="1137" y="510" width="1" height="15" fill="#00ff00"/>
<rect x="1136" y="514" width="3" height="3" fill="#00ff00"/>
<rect x="1141" y="494" width="1" height="25" fill="#ff0000"/>
<rect x="1140" y="497" width="3" height="21" fill="#ff0000"/>
<rect x="1145" y="490" width="1" height="9" fill="#ff0000"/>
<rect x="1144" y="493" width="3" height="5" fill="#ff0000"/>
<rect x="1149" y="487" width="1" height="16" fill="#ff0000"/>
<rect x="1148" y="488" width="3" height="10" fill="#ff0000"/>
<rect x="1153" y="481" width="1" height="22" fill="#00ff00"/>
<rect x="1152" y="488" width="3" height="11" fill="#00ff00"/>
<rect x="1157" y="473" width="1" height="31" fill="#ff0000"/>
<rect x="1156" y="482" width="3" height="17" fill="#ff0000"/>
<rect x="1161" y="458" width="1" height="32" fill="#ff0000"/>
<rect x="1160" y="475" width="3" height="9" fill="#ff0000"/>
<rect x="1165" y="460" width="1" height="29" fill="#00ff00"/>
<rect x="1164" y="475" width="3" height="9" fill="#00ff00"/>
<rect x="1169" y="472" width="1" height="13" fill="#ff0000"/>
<rect x="1168" y="475" width="3" height="2" fill="#ff0000"/>
<rect x="1173" y="468" width="1" height="17" fill="#ff0000"/>
<rect x="1172" y="469" width="3" height="9" fill="#ff0000"/>
<rect x="1177" y="461" width="1" height="21" fill="#00ff00"/>
<rect x="1176" y="469" width="3" height="2" fill="#00ff00"/>
<rect x="1181" y="469" width="1" height="17" fill="#00ff00"/>
<rect x="1180" y="470" width="3" height="9" fill="#00ff00"/>
<rect x="1185" y="467" width="1" height="19" fill="#ff0000"/>
<rect x="1184" y="468" width="3" height="11" fill="#ff0000"/>
<rect x="1189" y="466" width="1" height="18" fill="#00ff00"/>
<rect x="1188" y="468" width="3" height="15" fill="#00ff00"/>
<rect x="1193" y="480" width="1" height="6" fill="#00ff00"/>
<rect x="1192" y="482" width="3" height="3" fill="#00ff00"/>
<rect x="1197" y="481" width="1" height="10" fill="#00ff00"/>
<rect x="1196" y="485" width="3" height="4" fill="#00ff00"/>
<rect x="1201" y="484" width="1" height="13" fill="#00ff00"/>
<rect x="1200" y="488" width="3" height="7" fill="#00ff00"/>
<rect x="1205" y="489" width="1" height="19" fill="#00ff00"/>
<rect x="1204" y="493" width="3" height="11" fill="#00ff00"/>
<rect x="1209" y="497" width="1" height="12" fill="#ff0000"/>
<rect x="1208" y="503" width="3" height="1" fill="#ff0000"/>
<rect x="1213" y="485" width="1" height="19" fill="#ff0000"/>
<rect x="1212" y="497" width="3" height="7" fill="#ff0000"/>
<rect x="1217" y="496" width="1" height="9" fill="#00ff00"/>
<rect x="1216" y="496" width="3" height="3" fill="#00ff00"/>
<rect x="1221" y="502" width="1" height="12" fill="#00ff00"/>
<rect x="1220" y="503" width="3" height="10" fill="#00ff00"/>
<rect x="1225" y="502" width="1" height="19" fill="#ff0000"/>
<rect x="1224" y="503" width="3" height="11" fill="#ff0000"/>
<rect x="1229" y="489" width="1" height="17" fill="#ff0000"/>
<rect x="1228" y="492" width="3" height="13" fill="#ff0000"/>
<rect x="1233" y="490" width="1" height="17" fill="#00ff00"/>
<rect x="1232" y="492" width="3" height="4" fill="#00ff00"/>
<rect x="1237" y="493" width="1" height="29" fill="#00ff00"/>
<rect x="1236" y="495" width="3" height="26" fill="#00ff00"/>
<rect x="1241" y="511" width="1" height="13" fill="#ff0000"/>
<rect x="1240" y="517" width="3" height="4" fill="#ff0000"/>
<rect x="1245" y="509" width="1" height="18" fill="#ff0000"/>
<rect x="1244" y="519" width="3" height="1" fill="#ff0000"/>
<rect x="1249" y="511" width="1" height="15" fill="#00ff00"/>
<rect x="1248" y="518" width="3" height="5" fill="#00ff00"/>
<rect x="1253" y="518" width="1" height="16" fill="#00ff00"/>
<rect x="1252" y="522" width="3" height="10" fill="#00ff00"/>
<rect x="1257" y="530" width="1" height="14" fill="#00ff00"/>
<rect x="1256" y="531" width="3" height="10" fill="#00ff00"/>
<path fill="none" stroke="#ffa500" stroke-width="1" d="M15.5 370v2M17.5 366v3M19.5 363v2M20.5 361v2M21.5 359v2M22.5 357v2M23.5 355v2M25.5 352v2M49.5 342v2M51.5 338v3M53.5 333v4M54.5 329v4M55.5 325v4M56.5 321v4M57.5 316v5M58.5 313v3M59.5 308v5M60.5 305v3M61.5 300v5M62.5 295v5M63.5 290v5M64.5 285v5M65.5 279v6M66.5 272v7M67.5 266v6M68.5 259v7M69.5 253v6M70.5 249v4M71.5 244v5M72.5 240v4M73.5 236v4M74.5 234v2M75.5 232v2M76.5 230v2M77.5 226v4M78.5 221v5M79.5 216v5M80.5 211v5M81.5 205v6M82.5 197v8M83.5 190v7M84.5 182v8M85.5 176v6M86.5 171v5M87.5 165v6M88.5 160v5M89.5 155v5M90.5 150v5M91.5 145v5M92.5 140v5M93.5 135v5M94.5 130v5M95.5 125v5M96.5 120v5M97.5 115v5M98.5 112v3M99.5 107v5M100.5 104v3M101.5 101v3M107.5 106v2M109.5 109v2M110.5 111v4M111.5 115v4M112.5 119v4M113.5 123v4M114.5 127v3M115.5 130v5M116.5 135v3M117.5 138v6M118.5 144v7M119.5 151v6M120.5 157v7M121.5 164v5M122.5 169v4M123.5 173v3M124.5 176v4M125.5 180v3M126.5 183v2M127.5 185v2M128.5 187v2M129.5 189v2M131.5 185v3M133.5 182v2M137.5 179v2M138.5 177v2M139.5 175v2M140.5 173v2M141.5 171v2M149.5 171v2M150.5 173v3M151.5 176v2M152.5 178v3M153.5 181v2M155.5 184v2M158.5 188v2M159.5 190v2M160.5 192v2M161.5 194v2M162.5 196v2M163.5 198v2M164.5 200v2M165.5 202v3M167.5 206v3M169.5 210v2M175.5 214v2M179.5 214v2M181.5 211v2M183.5 207v3M185.5 204v2M194.5 195v2M195.5 193v2M196.5 191v2M199.5 187v2M217.5 180v2M219.5 183v3M221.5 187v2M222.5 189v2M224.5 192v2M227.5 196v2M229.5 199v2M231.5 202v3M233.5 206v2M249.5 197v2M250.5 194v3M251.5 192v2M252.5 189v3M253.5 187v2M254.5 188v2M256.5 191v2M258.5 194v2M259.5 196v2M260.5 198v2M262.5 201v2M263.5 203v2M264.5 205v2M270.5 208v2M272.5 211v2M275.5 210v2M277.5 207v2M279.5 203v3M281.5 200v2M282.5 198v2M283.5 196v2M284.5 194v2M293.5 191v2M294.5 193v2M295.5 195v2M296.5 197v2M297.5 199v3M299.5 203v3M301.5 207v2M302.5 209v2M303.5 211v2M304.5 213v2M321.5 217v2M323.5 220v3M325.5 224v3M326.5 227v3M327.5 230v3M328.5 233v3M329.5 236v3M331.5 240v3M333.5 244v3M334.5 247v2M335.5 249v2M336.5 251v2M337.5 253v3M338.5 256v2M339.5 258v3M340.5 261v2M341.5 263v3M342.5 266v3M343.5 269v3M344.5 272v3M345.5 275v3M346.5 278v3M347.5 281v3M348.5 284v3M349.5 287v3M350.5 290v4M351.5 294v3M352.5 297v4M353.5 301v4M354.5 305v3M355.5 308v5M356.5 313v3M357.5 316v3M358.5 319v2M359.5 321v2M360.5 323v2M362.5 326v2M363.5 328v2M364.5 330v2M370.5 335v2M372.5 338v2M374.5 338v2M375.5 336v2M376.5 334v2M378.5 331v2M379.5 329v2M380.5 327v2M381.5 325v2M382.5 322v3M383.5 320v2M384.5 317v3M385.5 314v3M387.5 310v3M389.5 306v3M391.5 302v3M393.5 299v2M431.5 293v2M433.5 290v2M434.5 288v2M435.5 286v2M436.5 284v2M437.5 282v2M447.5 288v2M454.5 296v2M456.5 299v2M514.5 313v2M516.5 316v2M517.5 318v2M518.5 320v2M519.5 322v2M520.5 324v2M521.5 326v2M522.5 328v2M523.5 330v2M524.5 332v2M527.5 336v2M561.5 342v2M562.5 344v2M563.5 346v2M564.5 348v2M565.5 350v2M567.5 353v2M589.5 357v2M591.5 360v3M593.5 364v2M594.5 366v2M596.5 369v2M646.5 398v2M648.5 401v2M649.5 403v2M651.5 406v3M653.5 410v2M678.5 411v2M680.5 408v2M690.5 401v2M692.5 398v2M695.5 394v2M726.5 383v2M727.5 381v2M728.5 379v2M729.5 377v2M731.5 373v3M733.5 369v3M735.5 365v3M737.5 361v3M738.5 359v2M739.5 356v3M740.5 354v2M741.5 352v2M758.5 346v2M760.5 349v2M770.5 359v2M771.5 361v2M772.5 363v2M783.5 368v2M785.5 371v2M787.5 374v3M789.5 378v2M791.5 381v2M793.5 384v2M795.5 387v3M797.5 391v2M798.5 393v2M799.5 395v2M800.5 397v2M806.5 400v2M808.5 397v2M827.5 394v2M843.5 398v2M849.5 394v2M851.5 390v3M853.5 386v3M854.5 384v2M855.5 381v3M856.5 379v2M857.5 376v3M859.5 372v3M861.5 369v2M866.5 363v2M868.5 360v2M869.5 359v2M870.5 361v2M871.5 363v3M872.5 366v2M873.5 368v3M874.5 371v3M875.5 374v2M876.5 376v3M877.5 379v3M878.5 382v3M879.5 385v4M880.5 389v3M881.5 392v3M882.5 395v3M883.5 398v4M884.5 402v3M885.5 405v3M886.5 408v3M887.5 411v2M888.5 413v3M889.5 416v2M890.5 418v2M892.5 421v2M895.5 425v2M906.5 421v2M908.5 418v2M909.5 416v2M911.5 412v3M913.5 409v2M954.5 421v2M956.5 424v2M959.5 428v2M975.5 442v2M977.5 445v2M979.5 448v3M981.5 452v3M983.5 456v3M985.5 460v2M986.5 462v2M987.5 464v2M988.5 466v2M990.5 469v2M991.5 471v2M992.5 473v2M1035.5 483v2M1037.5 480v2M1039.5 476v3M1041.5 473v2M1042.5 471v2M1044.5 468v2M1058.5 463v2M1060.5 466v2M1067.5 474v2M1070.5 478v2M1072.5 481v2M1075.5 485v2M1134.5 496v2M1136.5 499v2M1154.5 497v2M1155.5 495v2M1156.5 493v2M1159.5 489v2M1170.5 481v2M1172.5 478v2M1202.5 485v2M1203.5 487v2M1204.5 489v2M1246.5 510v2M1248.5 513v2M1250.5 516v2M1251.5 518v2M1252.5 520v2M102 102.5h1M103 103.5h2M105 104.5h1M106 105.5h1M108 108.5h1M142 171.5h2M148 171.5h1M144 172.5h4M136 180.5h1M135 181.5h1M215 181.5h2M134 182.5h1M214 182.5h1M218 182.5h1M154 183.5h1M213 183.5h1M132 184.5h1M211 184.5h2M201 185.5h3M210 185.5h1M156 186.5h1M200 186.5h1M204 186.5h6M220 186.5h1M157 187.5h1M130 188.5h1M198 189.5h1M289 189.5h2M197 190.5h1M255 190.5h1M288 190.5h1M291 190.5h1M223 191.5h1M287 191.5h1M292 191.5h1M286 192.5h1M257 193.5h1M285 193.5h1M225 194.5h1M226 195.5h1M193 197.5h1M191 198.5h2M228 198.5h1M190 199.5h1M248 199.5h1M189 200.5h1M247 200.5h1M261 200.5h1M188 201.5h1M230 201.5h1M246 201.5h1M187 202.5h1M245 202.5h1M280 202.5h1M298 202.5h1M186 203.5h1M244 203.5h1M243 204.5h1M166 205.5h1M232 205.5h1M242 205.5h1M184 206.5h1M240 206.5h2M278 206.5h1M300 206.5h1M234 207.5h2M239 207.5h1M265 207.5h5M236 208.5h3M168 209.5h1M276 209.5h1M182 210.5h1M271 210.5h1M170 211.5h2M172 212.5h2M274 212.5h1M174 213.5h1M180 213.5h1M273 213.5h1M317 213.5h1M316 214.5h1M318 214.5h1M305 215.5h1M315 215.5h1M319 215.5h1M176 216.5h1M178 216.5h1M306 216.5h1M314 216.5h1M320 216.5h1M177 217.5h1M307 217.5h2M312 217.5h2M309 218.5h3M322 219.5h1M324 223.5h1M330 239.5h1M332 243.5h1M438 282.5h4M442 283.5h1M443 284.5h1M444 285.5h1M445 286.5h1M446 287.5h1M448 290.5h1M449 291.5h1M432 292.5h1M450 292.5h1M451 293.5h1M452 294.5h1M430 295.5h1M453 295.5h1M429 296.5h1M428 297.5h1M427 298.5h1M455 298.5h1M394 299.5h14M426 299.5h1M489 299.5h1M408 300.5h4M425 300.5h1M487 300.5h2M490 300.5h1M392 301.5h1M412 301.5h3M423 301.5h2M457 301.5h1M486 301.5h1M491 301.5h2M415 302.5h1M422 302.5h1M458 302.5h1M480 302.5h6M493 302.5h2M416 303.5h6M459 303.5h2M464 303.5h2M479 303.5h1M495 303.5h1M461 304.5h3M466 304.5h1M476 304.5h3M496 304.5h4M390 305.5h1M467 305.5h2M472 305.5h4M500 305.5h6M469 306.5h3M506 306.5h1M507 307.5h2M509 308.5h1M388 309.5h1M510 309.5h1M511 310.5h1M512 311.5h1M513 312.5h1M386 313.5h1M515 315.5h1M361 325.5h1M365 332.5h2M367 333.5h1M377 333.5h1M368 334.5h2M525 334.5h1M526 335.5h1M52 337.5h1M371 337.5h1M528 338.5h1M529 339.5h1M373 340.5h1M530 340.5h1M50 341.5h1M531 341.5h2M533 342.5h2M556 342.5h5M48 343.5h1M535 343.5h1M540 343.5h8M555 343.5h1M752 343.5h3M36 344.5h4M44 344.5h4M536 344.5h4M548 344.5h7M749 344.5h3M755 344.5h1M35 345.5h1M40 345.5h4M748 345.5h1M756 345.5h2M32 346.5h3M747 346.5h1M31 347.5h1M746 347.5h1M29 348.5h2M745 348.5h1M759 348.5h1M28 349.5h1M744 349.5h1M27 350.5h1M743 350.5h1M26 351.5h1M742 351.5h1M761 351.5h1M566 352.5h1M762 352.5h1M763 353.5h2M24 354.5h1M765 354.5h1M568 355.5h1M572 355.5h4M584 355.5h3M766 355.5h1M569 356.5h3M576 356.5h4M583 356.5h1M587 356.5h1M767 356.5h1M580 357.5h3M588 357.5h1M768 357.5h1M769 358.5h1M590 359.5h1M867 362.5h1M592 363.5h1M736 364.5h1M18 365.5h1M773 365.5h3M865 365.5h1M776 366.5h6M864 366.5h1M782 367.5h1M863 367.5h1M595 368.5h1M734 368.5h1M862 368.5h1M16 369.5h1M784 370.5h1M597 371.5h1M860 371.5h1M14 372.5h1M598 372.5h1M732 372.5h1M13 373.5h1M599 373.5h1M786 373.5h1M12 374.5h1M600 374.5h1M11 375.5h1M601 375.5h1M858 375.5h1M10 376.5h1M602 376.5h1M730 376.5h1M8 377.5h2M603 377.5h1M788 377.5h1M604 378.5h1M605 379.5h1M606 380.5h1M790 380.5h1M607 381.5h2M609 382.5h2M611 383.5h1M792 383.5h1M612 384.5h2M614 385.5h1M725 385.5h1M615 386.5h2M724 386.5h1M794 386.5h1M617 387.5h1M632 387.5h3M723 387.5h1M618 388.5h1M628 388.5h4M635 388.5h1M722 388.5h1M619 389.5h2M627 389.5h1M636 389.5h2M712 389.5h4M720 389.5h2M852 389.5h1M621 390.5h6M638 390.5h1M704 390.5h8M716 390.5h4M796 390.5h1M639 391.5h1M703 391.5h1M817 391.5h7M640 392.5h1M697 392.5h6M815 392.5h2M824 392.5h2M641 393.5h1M696 393.5h1M814 393.5h1M826 393.5h1M850 393.5h1M642 394.5h1M812 394.5h2M643 395.5h1M811 395.5h1M848 395.5h1M644 396.5h1M694 396.5h1M809 396.5h2M828 396.5h1M845 396.5h3M645 397.5h1M693 397.5h1M829 397.5h2M844 397.5h1M831 398.5h1M801 399.5h1M807 399.5h1M832 399.5h4M647 400.5h1M691 400.5h1M802 400.5h1M836 400.5h4M842 400.5h1M803 401.5h2M840 401.5h2M805 402.5h1M689 403.5h1M687 404.5h2M650 405.5h1M686 405.5h1M684 406.5h2M920 406.5h3M681 407.5h3M916 407.5h4M923 407.5h1M915 408.5h1M924 408.5h2M652 409.5h1M914 409.5h1M926 409.5h1M679 410.5h1M927 410.5h1M912 411.5h1M928 411.5h1M654 412.5h1M929 412.5h2M655 413.5h1M676 413.5h2M931 413.5h1M936 413.5h8M656 414.5h1M675 414.5h1M932 414.5h4M944 414.5h2M657 415.5h3M664 415.5h11M910 415.5h1M946 415.5h1M660 416.5h4M947 416.5h1M948 417.5h1M949 418.5h2M951 419.5h1M891 420.5h1M907 420.5h1M952 420.5h2M893 423.5h1M905 423.5h1M955 423.5h1M894 424.5h1M903 424.5h2M902 425.5h1M900 426.5h2M957 426.5h1M896 427.5h1M899 427.5h1M958 427.5h1M897 428.5h2M960 430.5h1M961 431.5h1M962 432.5h1M963 433.5h2M965 434.5h2M967 435.5h1M968 436.5h2M970 437.5h1M971 438.5h1M972 439.5h1M973 440.5h1M974 441.5h1M976 444.5h1M978 447.5h1M980 451.5h1M982 455.5h1M984 459.5h1M1053 462.5h5M1051 463.5h2M1050 464.5h1M1048 465.5h2M1059 465.5h1M1047 466.5h1M1045 467.5h2M989 468.5h1M1061 468.5h1M1062 469.5h1M1043 470.5h1M1063 470.5h1M1064 471.5h1M1065 472.5h1M1185 472.5h2M1066 473.5h1M1184 473.5h1M1187 473.5h1M1183 474.5h1M1188 474.5h2M993 475.5h1M1040 475.5h1M1176 475.5h4M1182 475.5h1M1190 475.5h1M994 476.5h1M1068 476.5h1M1175 476.5h1M1180 476.5h2M1191 476.5h2M995 477.5h2M1069 477.5h1M1173 477.5h2M1193 477.5h1M997 478.5h1M1194 478.5h1M998 479.5h1M1038 479.5h1M1195 479.5h1M999 480.5h1M1071 480.5h1M1171 480.5h1M1196 480.5h1M1000 481.5h1M1197 481.5h1M1001 482.5h3M1036 482.5h1M1198 482.5h1M1004 483.5h3M1073 483.5h1M1169 483.5h1M1199 483.5h2M1007 484.5h1M1074 484.5h1M1167 484.5h2M1201 484.5h1M1008 485.5h7M1020 485.5h3M1034 485.5h1M1166 485.5h1M1015 486.5h1M1019 486.5h1M1023 486.5h1M1032 486.5h2M1164 486.5h2M1016 487.5h3M1024 487.5h8M1076 487.5h1M1161 487.5h3M1077 488.5h1M1160 488.5h1M1078 489.5h1M1079 490.5h1M1080 491.5h1M1105 491.5h6M1116 491.5h2M1158 491.5h1M1205 491.5h1M1081 492.5h2M1104 492.5h1M1111 492.5h1M1115 492.5h1M1118 492.5h1M1157 492.5h1M1206 492.5h1M1083 493.5h1M1103 493.5h1M1112 493.5h3M1119 493.5h2M1207 493.5h1M1084 494.5h4M1102 494.5h1M1121 494.5h3M1128 494.5h4M1208 494.5h1M1088 495.5h4M1101 495.5h1M1124 495.5h4M1132 495.5h2M1209 495.5h1M1092 496.5h3M1099 496.5h2M1210 496.5h1M1095 497.5h1M1098 497.5h1M1211 497.5h2M1096 498.5h2M1135 498.5h1M1213 498.5h2M1153 499.5h1M1215 499.5h1M1151 500.5h2M1216 500.5h2M1137 501.5h6M1150 501.5h1M1218 501.5h1M1228 501.5h6M1143 502.5h1M1148 502.5h2M1219 502.5h2M1227 502.5h1M1234 502.5h1M1144 503.5h4M1221 503.5h6M1235 503.5h1M1236 504.5h1M1237 505.5h3M1240 506.5h2M1242 507.5h1M1243 508.5h2M1245 509.5h1M1247 512.5h1M1249 515.5h1M1253 522.5h1M1254 523.5h1M1255 524.5h1M1256 525.5h1M1257 526.5h1"/>
<path fill="none" stroke="#ff0000" stroke-width="1" d="M54.5 348v2M55.5 345v3M56.5 342v3M57.5 340v2M58.5 338v2M59.5 336v2M60.5 334v2M61.5 332v2M62.5 330v2M63.5 327v3M64.5 325v2M65.5 322v3M66.5 319v3M67.5 317v2M68.5 314v3M69.5 311v3M70.5 309v2M71.5 307v2M72.5 305v2M73.5 302v3M74.5 300v2M75.5 298v2M76.5 296v2M77.5 293v3M78.5 290v3M79.5 286v4M80.5 283v3M81.5 279v4M82.5 275v4M83.5 270v5M84.5 266v4M85.5 261v5M86.5 256v5M87.5 252v4M88.5 247v5M89.5 243v4M90.5 239v4M91.5 235v4M92.5 231v4M93.5 227v4M94.5 223v4M95.5 219v4M96.5 215v4M97.5 210v5M98.5 206v4M99.5 201v5M100.5 197v4M101.5 192v5M102.5 188v4M103.5 184v4M104.5 180v4M105.5 176v4M106.5 173v3M107.5 169v4M108.5 166v3M109.5 164v2M114.5 158v2M116.5 155v2M138.5 145v2M139.5 147v2M140.5 149v2M143.5 153v2M149.5 159v2M151.5 162v3M153.5 166v3M155.5 170v3M157.5 174v3M159.5 178v3M161.5 182v2M162.5 184v2M164.5 187v2M331.5 217v2M335.5 222v2M337.5 225v2M339.5 228v3M341.5 232v3M342.5 235v2M343.5 237v2M344.5 239v2M345.5 241v3M347.5 245v3M349.5 249v2M350.5 251v2M352.5 254v2M353.5 256v2M355.5 259v3M357.5 263v3M359.5 267v3M361.5 271v3M362.5 274v3M363.5 277v2M364.5 279v3M365.5 282v3M366.5 285v2M367.5 287v2M368.5 289v2M369.5 291v3M370.5 294v2M371.5 296v2M372.5 298v2M373.5 300v2M375.5 303v2M427.5 300v2M563.5 342v2M795.5 367v2M983.5 435v2M987.5 440v2M991.5 445v2M998.5 453v2M1000.5 456v2M133 143.5h3M132 144.5h1M136 144.5h2M131 145.5h1M130 146.5h1M129 147.5h1M127 148.5h2M126 149.5h1M125 150.5h1M123 151.5h2M141 151.5h1M122 152.5h1M142 152.5h1M120 153.5h2M117 154.5h3M144 155.5h1M145 156.5h1M115 157.5h1M146 157.5h1M147 158.5h2M113 160.5h1M112 161.5h1M150 161.5h1M111 162.5h1M110 163.5h1M152 165.5h1M154 169.5h1M156 173.5h1M158 177.5h1M160 181.5h1M163 186.5h1M165 189.5h3M168 190.5h3M171 191.5h1M172 192.5h4M252 192.5h2M176 193.5h4M224 193.5h16M251 193.5h1M254 193.5h1M180 194.5h6M220 194.5h4M240 194.5h11M255 194.5h1M186 195.5h1M216 195.5h4M256 195.5h1M187 196.5h2M215 196.5h1M257 196.5h1M289 196.5h2M189 197.5h3M212 197.5h3M258 197.5h1M287 197.5h2M291 197.5h1M192 198.5h3M208 198.5h4M259 198.5h1M286 198.5h1M292 198.5h2M195 199.5h1M200 199.5h8M260 199.5h1M285 199.5h1M294 199.5h1M196 200.5h4M261 200.5h3M283 200.5h2M295 200.5h2M264 201.5h4M282 201.5h1M297 201.5h1M268 202.5h3M280 202.5h2M298 202.5h1M271 203.5h1M276 203.5h4M299 203.5h2M272 204.5h4M301 204.5h3M304 205.5h3M307 206.5h1M316 206.5h3M308 207.5h8M319 207.5h1M320 208.5h2M322 209.5h1M323 210.5h2M325 211.5h1M326 212.5h1M327 213.5h1M328 214.5h1M329 215.5h1M330 216.5h1M332 219.5h1M333 220.5h1M334 221.5h1M336 224.5h1M338 227.5h1M340 231.5h1M346 244.5h1M348 248.5h1M351 253.5h1M354 258.5h1M356 262.5h1M358 266.5h1M360 270.5h1M436 295.5h24M472 295.5h4M432 296.5h4M460 296.5h12M476 296.5h4M431 297.5h1M480 297.5h3M429 298.5h2M483 298.5h1M428 299.5h1M484 299.5h4M488 300.5h3M491 301.5h1M374 302.5h1M426 302.5h1M492 302.5h3M425 303.5h1M495 303.5h1M424 304.5h1M496 304.5h15M376 305.5h1M423 305.5h1M511 305.5h1M377 306.5h1M422 306.5h1M512 306.5h2M378 307.5h1M421 307.5h1M514 307.5h1M379 308.5h2M419 308.5h2M515 308.5h2M381 309.5h2M418 309.5h1M517 309.5h1M383 310.5h1M416 310.5h2M518 310.5h1M384 311.5h2M415 311.5h1M519 311.5h2M386 312.5h1M412 312.5h3M521 312.5h2M387 313.5h2M411 313.5h1M523 313.5h1M389 314.5h1M408 314.5h3M524 314.5h3M390 315.5h1M404 315.5h4M527 315.5h1M391 316.5h1M403 316.5h1M528 316.5h2M392 317.5h1M400 317.5h3M530 317.5h1M393 318.5h7M531 318.5h1M532 319.5h1M533 320.5h1M534 321.5h1M535 322.5h1M536 323.5h1M537 324.5h1M538 325.5h1M539 326.5h2M541 327.5h2M543 328.5h1M544 329.5h2M546 330.5h1M547 331.5h2M549 332.5h2M551 333.5h1M552 334.5h2M554 335.5h1M555 336.5h2M557 337.5h1M558 338.5h1M559 339.5h2M561 340.5h1M562 341.5h1M564 344.5h1M565 345.5h2M567 346.5h1M568 347.5h12M580 348.5h3M583 349.5h1M53 350.5h1M584 350.5h2M52 351.5h1M586 351.5h1M51 352.5h1M587 352.5h2M50 353.5h1M589 353.5h2M48 354.5h2M591 354.5h1M47 355.5h1M592 355.5h3M46 356.5h1M595 356.5h1M776 356.5h8M45 357.5h1M596 357.5h2M772 357.5h4M784 357.5h2M44 358.5h1M598 358.5h1M768 358.5h4M786 358.5h1M42 359.5h2M599 359.5h2M767 359.5h1M787 359.5h1M40 360.5h2M601 360.5h1M764 360.5h3M788 360.5h1M39 361.5h1M602 361.5h1M763 361.5h1M789 361.5h1M37 362.5h2M603 362.5h2M760 362.5h3M790 362.5h1M35 363.5h2M605 363.5h1M759 363.5h1M791 363.5h1M33 364.5h2M606 364.5h1M756 364.5h3M792 364.5h1M29 365.5h4M607 365.5h2M755 365.5h1M793 365.5h1M26 366.5h3M609 366.5h1M753 366.5h2M794 366.5h1M23 367.5h3M610 367.5h1M752 367.5h1M22 368.5h1M611 368.5h1M751 368.5h1M19 369.5h3M612 369.5h1M750 369.5h1M796 369.5h1M18 370.5h1M613 370.5h1M749 370.5h1M797 370.5h1M16 371.5h2M614 371.5h1M747 371.5h2M798 371.5h1M15 372.5h1M615 372.5h2M746 372.5h1M799 372.5h1M14 373.5h1M617 373.5h3M745 373.5h1M800 373.5h1M6 374.5h8M620 374.5h3M744 374.5h1M801 374.5h1M623 375.5h1M743 375.5h1M802 375.5h1M624 376.5h3M742 376.5h1M803 376.5h1M627 377.5h1M741 377.5h1M804 377.5h1M628 378.5h2M740 378.5h1M805 378.5h2M630 379.5h1M739 379.5h1M807 379.5h1M631 380.5h2M738 380.5h1M808 380.5h2M633 381.5h1M737 381.5h1M810 381.5h1M634 382.5h1M735 382.5h2M811 382.5h2M635 383.5h2M734 383.5h1M813 383.5h3M637 384.5h1M733 384.5h1M816 384.5h2M868 384.5h4M638 385.5h1M732 385.5h1M818 385.5h1M864 385.5h4M872 385.5h8M639 386.5h2M731 386.5h1M819 386.5h2M861 386.5h3M880 386.5h3M641 387.5h1M730 387.5h1M821 387.5h1M859 387.5h2M883 387.5h1M642 388.5h1M729 388.5h1M822 388.5h1M858 388.5h1M884 388.5h3M643 389.5h2M728 389.5h1M823 389.5h2M857 389.5h1M887 389.5h1M645 390.5h2M727 390.5h1M825 390.5h2M855 390.5h2M888 390.5h2M647 391.5h1M726 391.5h1M827 391.5h1M854 391.5h1M890 391.5h1M648 392.5h2M725 392.5h1M828 392.5h3M853 392.5h1M891 392.5h2M650 393.5h1M724 393.5h1M831 393.5h1M852 393.5h1M893 393.5h2M651 394.5h2M723 394.5h1M832 394.5h3M851 394.5h1M895 394.5h1M653 395.5h1M722 395.5h1M835 395.5h1M850 395.5h1M896 395.5h3M654 396.5h1M720 396.5h2M836 396.5h3M844 396.5h6M899 396.5h1M655 397.5h1M716 397.5h4M839 397.5h1M843 397.5h1M900 397.5h4M656 398.5h1M715 398.5h1M840 398.5h3M904 398.5h3M657 399.5h2M712 399.5h3M907 399.5h1M659 400.5h1M711 400.5h1M908 400.5h2M660 401.5h7M708 401.5h3M910 401.5h1M667 402.5h1M707 402.5h1M911 402.5h1M668 403.5h3M704 403.5h3M912 403.5h1M671 404.5h1M703 404.5h1M913 404.5h1M672 405.5h3M700 405.5h3M914 405.5h1M675 406.5h1M696 406.5h4M915 406.5h1M676 407.5h8M695 407.5h1M916 407.5h1M684 408.5h11M917 408.5h1M918 409.5h1M919 410.5h1M920 411.5h1M921 412.5h1M922 413.5h1M923 414.5h2M940 414.5h16M925 415.5h3M936 415.5h4M956 415.5h3M928 416.5h4M935 416.5h1M959 416.5h1M932 417.5h3M960 417.5h2M962 418.5h1M963 419.5h1M964 420.5h1M965 421.5h2M967 422.5h1M968 423.5h2M970 424.5h1M971 425.5h2M973 426.5h1M974 427.5h1M975 428.5h2M977 429.5h1M978 430.5h1M979 431.5h1M980 432.5h1M981 433.5h1M982 434.5h1M984 437.5h1M985 438.5h1M986 439.5h1M988 442.5h1M989 443.5h1M990 444.5h1M992 447.5h1M993 448.5h1M994 449.5h1M995 450.5h1M996 451.5h1M997 452.5h1M999 455.5h1M1001 458.5h1M1002 459.5h1M1003 460.5h1M1004 461.5h1M1005 462.5h1M1006 463.5h1M1007 464.5h1M1008 465.5h1M1009 466.5h1M1010 467.5h1M1011 468.5h2M1013 469.5h1M1014 470.5h1M1015 471.5h1M1016 472.5h1M1017 473.5h1M1018 474.5h1M1019 475.5h2M1057 475.5h11M1021 476.5h1M1055 476.5h2M1068 476.5h8M1080 476.5h3M1022 477.5h1M1054 477.5h1M1076 477.5h4M1083 477.5h1M1023 478.5h1M1052 478.5h2M1084 478.5h4M1024 479.5h1M1044 479.5h8M1088 479.5h2M1025 480.5h2M1040 480.5h4M1090 480.5h1M1027 481.5h1M1039 481.5h1M1091 481.5h2M1196 481.5h4M1028 482.5h3M1036 482.5h3M1093 482.5h1M1192 482.5h4M1200 482.5h4M1031 483.5h1M1035 483.5h1M1094 483.5h1M1191 483.5h1M1204 483.5h8M1032 484.5h3M1095 484.5h2M1189 484.5h2M1212 484.5h3M1097 485.5h3M1187 485.5h2M1215 485.5h1M1100 486.5h4M1186 486.5h1M1216 486.5h3M1104 487.5h3M1184 487.5h2M1219 487.5h1M1107 488.5h1M1180 488.5h4M1220 488.5h3M1108 489.5h2M1176 489.5h4M1223 489.5h1M1110 490.5h1M1172 490.5h4M1224 490.5h3M1111 491.5h1M1171 491.5h1M1227 491.5h1M1112 492.5h1M1168 492.5h3M1228 492.5h4M1113 493.5h3M1128 493.5h3M1167 493.5h1M1232 493.5h2M1116 494.5h12M1131 494.5h1M1164 494.5h3M1234 494.5h1M1132 495.5h3M1148 495.5h8M1160 495.5h4M1235 495.5h2M1135 496.5h1M1140 496.5h8M1156 496.5h4M1237 496.5h1M1136 497.5h4M1238 497.5h1M1239 498.5h1M1240 499.5h1M1241 500.5h2M1243 501.5h1M1244 502.5h2M1246 503.5h1M1247 504.5h2M1249 505.5h1M1250 506.5h1M1251 507.5h2M1253 508.5h1M1254 509.5h1M1255 510.5h2M1257 511.5h1"/>
<path fill="none" stroke="#0000cd" stroke-width="1" d="M69.5 347v2M71.5 344v2M73.5 341v2M75.5 338v2M77.5 335v2M78.5 333v2M80.5 329v3M82.5 325v3M84.5 321v3M86.5 317v3M88.5 313v3M90.5 309v3M91.5 307v2M92.5 304v3M93.5 302v2M94.5 300v2M95.5 297v3M96.5 295v2M97.5 293v2M98.5 290v3M99.5 288v2M100.5 285v3M101.5 282v3M102.5 279v3M104.5 275v3M106.5 271v3M108.5 267v3M110.5 264v2M111.5 262v2M113.5 259v2M115.5 256v2M116.5 254v2M118.5 251v2M120.5 248v2M122.5 245v2M123.5 243v2M124.5 241v2M126.5 238v2M128.5 235v2M130.5 232v2M131.5 230v2M132.5 228v2M134.5 225v2M136.5 222v2M139.5 218v2M142.5 214v2M144.5 211v2M146.5 208v2M148.5 205v2M155.5 197v2M167.5 184v2M355.5 228v2M359.5 233v2M363.5 238v2M367.5 243v2M371.5 248v2M192 172.5h10M188 173.5h4M202 173.5h1M184 174.5h4M203 174.5h2M183 175.5h1M205 175.5h1M180 176.5h3M206 176.5h1M179 177.5h1M207 177.5h2M176 178.5h3M209 178.5h2M173 179.5h3M211 179.5h1M171 180.5h2M212 180.5h3M170 181.5h1M215 181.5h1M169 182.5h1M216 182.5h2M168 183.5h1M218 183.5h1M219 184.5h1M220 185.5h1M166 186.5h1M221 186.5h1M165 187.5h1M222 187.5h1M164 188.5h1M223 188.5h1M163 189.5h1M224 189.5h1M162 190.5h1M225 190.5h1M161 191.5h1M226 191.5h1M160 192.5h1M227 192.5h2M159 193.5h1M229 193.5h3M240 193.5h8M158 194.5h1M232 194.5h8M248 194.5h4M157 195.5h1M252 195.5h4M156 196.5h1M256 196.5h3M288 196.5h11M259 197.5h1M287 197.5h1M299 197.5h1M260 198.5h4M280 198.5h7M300 198.5h4M154 199.5h1M264 199.5h4M276 199.5h4M304 199.5h8M153 200.5h1M268 200.5h8M312 200.5h6M152 201.5h1M318 201.5h1M151 202.5h1M319 202.5h2M150 203.5h1M321 203.5h1M149 204.5h1M322 204.5h1M323 205.5h2M325 206.5h2M147 207.5h1M327 207.5h1M328 208.5h3M331 209.5h1M145 210.5h1M332 210.5h2M334 211.5h1M335 212.5h2M143 213.5h1M337 213.5h1M338 214.5h1M339 215.5h2M141 216.5h1M341 216.5h1M140 217.5h1M342 217.5h1M343 218.5h2M345 219.5h1M138 220.5h1M346 220.5h1M137 221.5h1M347 221.5h1M348 222.5h1M349 223.5h1M135 224.5h1M350 224.5h1M351 225.5h2M353 226.5h1M133 227.5h1M354 227.5h1M356 230.5h1M357 231.5h1M358 232.5h1M129 234.5h1M360 235.5h1M361 236.5h1M127 237.5h1M362 237.5h1M125 240.5h1M364 240.5h1M365 241.5h1M366 242.5h1M368 245.5h1M369 246.5h1M121 247.5h1M370 247.5h1M119 250.5h1M372 250.5h1M373 251.5h1M374 252.5h1M117 253.5h1M375 253.5h2M377 254.5h1M378 255.5h1M379 256.5h2M381 257.5h2M114 258.5h1M383 258.5h1M384 259.5h2M386 260.5h1M112 261.5h1M387 261.5h2M389 262.5h1M390 263.5h1M391 264.5h1M392 265.5h1M109 266.5h1M393 266.5h1M394 267.5h1M395 268.5h1M396 269.5h1M107 270.5h1M397 270.5h1M398 271.5h1M399 272.5h2M401 273.5h1M105 274.5h1M402 274.5h1M403 275.5h1M404 276.5h1M405 277.5h1M103 278.5h1M406 278.5h1M407 279.5h1M408 280.5h1M409 281.5h1M410 282.5h1M411 283.5h2M413 284.5h1M414 285.5h1M415 286.5h2M417 287.5h2M419 288.5h1M420 289.5h3M423 290.5h1M424 291.5h2M426 292.5h1M427 293.5h2M429 294.5h2M431 295.5h1M432 296.5h3M435 297.5h1M436 298.5h3M439 299.5h1M492 299.5h16M440 300.5h4M488 300.5h4M508 300.5h4M444 301.5h3M484 301.5h4M512 301.5h4M447 302.5h1M483 302.5h1M516 302.5h3M448 303.5h4M480 303.5h3M519 303.5h1M452 304.5h3M476 304.5h4M520 304.5h4M455 305.5h1M472 305.5h4M524 305.5h4M456 306.5h16M528 306.5h3M531 307.5h1M532 308.5h4M536 309.5h4M540 310.5h3M543 311.5h1M89 312.5h1M544 312.5h3M547 313.5h1M548 314.5h2M550 315.5h1M87 316.5h1M551 316.5h2M553 317.5h2M555 318.5h1M556 319.5h3M85 320.5h1M559 320.5h1M560 321.5h3M563 322.5h1M564 323.5h3M83 324.5h1M567 324.5h1M568 325.5h3M571 326.5h1M572 327.5h4M81 328.5h1M576 328.5h4M580 329.5h2M582 330.5h1M583 331.5h2M79 332.5h1M585 332.5h2M587 333.5h1M588 334.5h2M590 335.5h1M591 336.5h2M76 337.5h1M593 337.5h2M595 338.5h1M596 339.5h2M74 340.5h1M598 340.5h1M599 341.5h2M601 342.5h2M72 343.5h1M603 343.5h1M604 344.5h2M606 345.5h1M70 346.5h1M607 346.5h1M608 347.5h1M609 348.5h2M68 349.5h1M611 349.5h1M67 350.5h1M612 350.5h2M66 351.5h1M614 351.5h1M64 352.5h2M615 352.5h2M63 353.5h1M617 353.5h1M62 354.5h1M618 354.5h1M61 355.5h1M619 355.5h2M60 356.5h1M621 356.5h1M59 357.5h1M622 357.5h1M57 358.5h2M623 358.5h2M56 359.5h1M625 359.5h2M55 360.5h1M627 360.5h1M53 361.5h2M628 361.5h3M50 362.5h3M631 362.5h1M47 363.5h3M632 363.5h3M44 364.5h3M635 364.5h1M42 365.5h2M636 365.5h3M39 366.5h3M639 366.5h1M36 367.5h3M640 367.5h3M33 368.5h3M643 368.5h1M30 369.5h3M644 369.5h2M27 370.5h3M646 370.5h1M25 371.5h2M647 371.5h2M22 372.5h3M649 372.5h2M20 373.5h2M651 373.5h1M18 374.5h2M652 374.5h2M796 374.5h4M808 374.5h12M15 375.5h3M654 375.5h1M788 375.5h8M800 375.5h8M820 375.5h12M13 376.5h2M655 376.5h2M780 376.5h8M832 376.5h8M10 377.5h3M657 377.5h2M779 377.5h1M840 377.5h8M8 378.5h2M659 378.5h1M776 378.5h3M848 378.5h4M6 379.5h2M660 379.5h3M775 379.5h1M852 379.5h12M663 380.5h1M772 380.5h3M864 380.5h4M664 381.5h2M768 381.5h4M868 381.5h3M666 382.5h1M767 382.5h1M871 382.5h1M667 383.5h2M764 383.5h3M872 383.5h4M669 384.5h2M763 384.5h1M876 384.5h3M671 385.5h1M760 385.5h3M879 385.5h1M672 386.5h2M756 386.5h4M880 386.5h2M674 387.5h1M752 387.5h4M882 387.5h1M675 388.5h2M751 388.5h1M883 388.5h2M677 389.5h3M748 389.5h3M885 389.5h2M680 390.5h8M744 390.5h4M887 390.5h1M688 391.5h3M743 391.5h1M888 391.5h3M691 392.5h1M740 392.5h3M891 392.5h1M692 393.5h4M736 393.5h4M892 393.5h3M696 394.5h3M735 394.5h1M895 394.5h1M699 395.5h1M732 395.5h3M896 395.5h4M700 396.5h8M728 396.5h4M900 396.5h4M708 397.5h8M724 397.5h4M904 397.5h16M716 398.5h8M920 398.5h8M928 399.5h4M932 400.5h4M936 401.5h8M944 402.5h4M948 403.5h4M952 404.5h4M956 405.5h4M960 406.5h3M963 407.5h1M964 408.5h3M967 409.5h1M968 410.5h2M970 411.5h1M971 412.5h2M973 413.5h1M974 414.5h1M975 415.5h2M977 416.5h1M978 417.5h1M979 418.5h1M980 419.5h1M981 420.5h1M982 421.5h1M983 422.5h1M984 423.5h1M985 424.5h1M986 425.5h1M987 426.5h1M988 427.5h1M989 428.5h2M991 429.5h1M992 430.5h2M994 431.5h1M995 432.5h2M997 433.5h2M999 434.5h1M1000 435.5h3M1003 436.5h1M1004 437.5h3M1007 438.5h1M1008 439.5h3M1011 440.5h1M1012 441.5h3M1015 442.5h1M1016 443.5h3M1019 444.5h1M1020 445.5h2M1022 446.5h1M1023 447.5h2M1025 448.5h1M1026 449.5h1M1027 450.5h2M1029 451.5h2M1031 452.5h1M1032 453.5h3M1035 454.5h1M1036 455.5h4M1040 456.5h3M1043 457.5h1M1044 458.5h3M1047 459.5h1M1048 460.5h4M1052 461.5h3M1055 462.5h1M1056 463.5h3M1059 464.5h1M1060 465.5h3M1063 466.5h1M1064 467.5h2M1066 468.5h1M1067 469.5h2M1069 470.5h2M1071 471.5h1M1072 472.5h3M1075 473.5h1M1076 474.5h3M1079 475.5h1M1080 476.5h4M1084 477.5h3M1087 478.5h1M1088 479.5h3M1091 480.5h1M1092 481.5h4M1096 482.5h12M1108 483.5h4M1112 484.5h4M1120 484.5h8M1116 485.5h4M1128 485.5h4M1132 486.5h4M1136 487.5h16M1152 488.5h4M1156 489.5h4M1196 489.5h4M1160 490.5h16M1184 490.5h12M1200 490.5h20M1176 491.5h8M1220 491.5h4M1232 491.5h4M1224 492.5h8M1236 492.5h4M1240 493.5h4M1244 494.5h4M1248 495.5h4M1252 496.5h6"/>
<rect x="5" y="335" width="1576" height="2" fill="#ff0000"/>
<rect x="5" y="380" width="1576" height="2" fill="#ff0000"/>
<rect x="4" y="378" width="6" height="6" fill="#ff0000"/>
<rect x="6" y="380" width="2" height="2" fill="#ffffff"/>
<rect x="1575" y="378" width="6" height="6" fill="#ff0000"/>
<rect x="1577" y="380" width="2" height="2" fill="#ffffff"/>
<rect x="5" y="421" width="1576" height="2" fill="#ff0000"/>
<rect x="4" y="419" width="6" height="6" fill="#ff0000"/>
<rect x="6" y="421" width="2" height="2" fill="#ffffff"/>
<rect x="1575" y="419" width="6" height="6" fill="#ff0000"/>
<rect x="1577" y="421" width="2" height="2" fill="#ffffff"/>
<rect x="5" y="462" width="1576" height="2" fill="#00ff00"/>
<rect x="4" y="460" width="6" height="6" fill="#00ff00"/>
<rect x="6" y="462" width="2" height="2" fill="#ffffff"/>
<rect x="1575" y="460" width="6" height="6" fill="#00ff00"/>
<rect x="1577" y="462" width="2" height="2" fill="#ffffff"/>
<rect x="5" y="515" width="1576" height="2" fill="#0000ff"/>
<rect x="4" y="513" width="6" height="6" fill="#0000ff"/>
<rect x="6" y="515" width="2" height="2" fill="#ffffff"/>
<rect x="1575" y="513" width="6" height="6" fill="#0000ff"/>
<rect x="1577" y="515" width="2" height="2" fill="#ffffff"/>
<line x1="6" x2="1581" y1="588.5" y2="588.5" stroke="#c0c0c0" stroke-width="1" stroke-dasharray="3 3"/>
<line x1="6" x2="1581" y1="625.5" y2="625.5" stroke="#c0c0c0" stroke-width="1" stroke-dasharray="3 3"/>
<path fill="none" stroke="#1e90ff" stroke-width="1" d="M15.5 589v2M18.5 585v2M20.5 582v2M29.5 588v2M30.5 590v2M31.5 592v2M32.5 594v2M33.5 596v2M34.5 597v2M36.5 593v3M50.5 587v2M51.5 585v2M52.5 583v2M53.5 581v2M54.5 579v2M55.5 577v2M56.5 575v2M70.5 572v2M73.5 576v2M82.5 572v2M87.5 571v2M92.5 577v2M106.5 582v2M108.5 585v3M110.5 589v4M111.5 593v3M112.5 596v5M113.5 601v2M122.5 606v2M123.5 604v2M124.5 602v2M125.5 600v2M150.5 603v2M151.5 605v2M152.5 607v2M177.5 611v2M178.5 609v2M179.5 607v2M180.5 605v2M181.5 603v2M199.5 602v2M206.5 603v2M233.5 612v2M235.5 608v3M237.5 604v3M251.5 605v2M252.5 603v2M254.5 603v2M255.5 605v2M256.5 607v2M268.5 608v2M290.5 605v2M292.5 608v2M296.5 613v2M318.5 610v2M319.5 612v2M321.5 615v2M337.5 618v2M339.5 621v2M373.5 625v2M374.5 623v2M375.5 620v3M376.5 618v2M377.5 616v2M378.5 614v2M418.5 614v2M421.5 610v2M439.5 605v2M468.5 611v2M488.5 607v2M489.5 606v2M491.5 609v3M493.5 613v2M510.5 612v2M511.5 614v2M512.5 616v2M513.5 618v2M523.5 622v2M524.5 620v2M525.5 618v2M542.5 619v2M543.5 617v2M544.5 615v2M545.5 613v2M548.5 614v2M561.5 617v2M563.5 620v3M565.5 624v2M569.5 620v2M570.5 617v3M571.5 615v2M572.5 612v3M573.5 610v2M661.5 624v2M662.5 621v3M663.5 619v2M664.5 616v3M665.5 614v2M675.5 618v2M678.5 614v2M679.5 611v3M680.5 607v4M681.5 605v2M721.5 604v2M722.5 602v2M723.5 600v2M724.5 598v2M725.5 596v2M753.5 591v2M754.5 593v2M755.5 595v2M756.5 597v2M757.5 599v2M758.5 601v2M782.5 606v2M783.5 608v2M784.5 610v2M785.5 612v2M786.5 614v2M789.5 618v2M805.5 615v2M806.5 612v3M807.5 610v2M808.5 607v3M809.5 605v2M841.5 612v2M842.5 610v2M843.5 608v2M844.5 606v2M845.5 604v2M847.5 606v2M850.5 608v3M851.5 604v4M852.5 599v5M853.5 596v3M870.5 603v3M871.5 606v3M872.5 609v5M873.5 614v2M878.5 614v2M880.5 617v2M915.5 609v2M943.5 611v2M998.5 625v2M1000.5 628v3M1001.5 630v2M1002.5 628v2M1003.5 626v2M1004.5 624v2M1005.5 622v2M1027.5 622v2M1028.5 620v2M1029.5 618v2M1034.5 614v2M1036.5 610v3M1038.5 606v3M1040.5 602v3M1042.5 602v2M1044.5 605v2M1060.5 609v2M1063.5 613v2M1097.5 616v2M1098.5 613v3M1099.5 611v2M1100.5 608v3M1101.5 606v2M1109.5 613v2M1113.5 617v2M1115.5 613v3M1117.5 609v3M1129.5 609v2M1130.5 611v2M1131.5 613v2M1132.5 615v2M1133.5 617v2M1137.5 617v2M1139.5 613v3M1141.5 610v2M1155.5 609v2M1156.5 607v2M1157.5 605v2M1184.5 602v2M1186.5 600v2M1188.5 603v3M1219.5 614v2M1224.5 615v2M1228.5 610v2M1233.5 608v2M1234.5 610v2M1235.5 612v3M1236.5 615v2M1237.5 617v2M85 569.5h1M84 570.5h1M86 570.5h1M69 571.5h1M83 571.5h1M68 572.5h1M67 573.5h1M88 573.5h1M57 574.5h1M65 574.5h2M71 574.5h1M81 574.5h1M89 574.5h1M58 575.5h2M64 575.5h1M72 575.5h1M80 575.5h1M90 575.5h1M60 576.5h2M63 576.5h1M79 576.5h1M91 576.5h1M62 577.5h1M77 577.5h2M100 577.5h2M74 578.5h3M98 578.5h2M102 578.5h1M93 579.5h1M96 579.5h2M103 579.5h1M94 580.5h2M104 580.5h1M21 581.5h1M105 581.5h1M22 582.5h1M23 583.5h1M19 584.5h1M24 584.5h2M107 584.5h1M26 585.5h1M27 586.5h1M17 587.5h1M28 587.5h1M16 588.5h1M109 588.5h1M742 588.5h1M45 589.5h5M740 589.5h2M743 589.5h1M43 590.5h2M738 590.5h2M744 590.5h2M14 591.5h1M42 591.5h1M733 591.5h5M746 591.5h2M13 592.5h1M37 592.5h5M731 592.5h2M748 592.5h1M751 592.5h2M12 593.5h1M730 593.5h1M749 593.5h2M11 594.5h1M728 594.5h2M856 594.5h2M9 595.5h2M727 595.5h1M855 595.5h1M858 595.5h1M8 596.5h1M35 596.5h1M726 596.5h1M854 596.5h1M859 596.5h2M7 597.5h1M861 597.5h1M6 598.5h1M133 598.5h1M862 598.5h4M5 599.5h1M131 599.5h2M134 599.5h1M202 599.5h1M866 599.5h1M126 600.5h2M130 600.5h1M135 600.5h1M201 600.5h1M203 600.5h1M867 600.5h1M1175 600.5h3M128 601.5h2M136 601.5h1M144 601.5h4M184 601.5h2M200 601.5h1M204 601.5h1M868 601.5h1M1041 601.5h1M1172 601.5h3M1178 601.5h1M1185 601.5h1M114 602.5h4M137 602.5h1M140 602.5h4M148 602.5h2M183 602.5h1M186 602.5h1M205 602.5h1M253 602.5h1M429 602.5h1M766 602.5h1M869 602.5h1M1161 602.5h1M1170 602.5h2M1179 602.5h1M1187 602.5h1M118 603.5h1M138 603.5h2M182 603.5h1M187 603.5h1M238 603.5h2M278 603.5h11M428 603.5h1M430 603.5h2M437 603.5h1M759 603.5h1M764 603.5h2M767 603.5h2M1159 603.5h2M1162 603.5h1M1168 603.5h2M1180 603.5h1M119 604.5h1M188 604.5h1M198 604.5h1M215 604.5h3M240 604.5h1M245 604.5h2M277 604.5h1M289 604.5h1M427 604.5h1M432 604.5h2M435 604.5h2M438 604.5h1M705 604.5h1M714 604.5h1M760 604.5h2M763 604.5h1M769 604.5h2M1043 604.5h1M1158 604.5h1M1163 604.5h2M1166 604.5h2M1181 604.5h1M1183 604.5h1M120 605.5h1M189 605.5h1M194 605.5h4M207 605.5h1M212 605.5h3M218 605.5h3M241 605.5h4M247 605.5h1M276 605.5h1M426 605.5h1M434 605.5h1M696 605.5h3M703 605.5h2M706 605.5h1M713 605.5h1M715 605.5h1M762 605.5h1M771 605.5h1M846 605.5h1M910 605.5h1M1039 605.5h1M1165 605.5h1M1182 605.5h1M121 606.5h1M190 606.5h4M208 606.5h1M211 606.5h1M221 606.5h2M248 606.5h2M270 606.5h3M275 606.5h1M310 606.5h2M425 606.5h1M682 606.5h1M692 606.5h4M699 606.5h2M702 606.5h1M707 606.5h1M711 606.5h2M716 606.5h2M719 606.5h2M772 606.5h2M781 606.5h1M810 606.5h1M909 606.5h1M911 606.5h2M1148 606.5h2M1189 606.5h3M157 607.5h4M209 607.5h2M223 607.5h2M236 607.5h1M250 607.5h1M269 607.5h1M273 607.5h2M291 607.5h1M309 607.5h1M312 607.5h2M424 607.5h1M440 607.5h1M683 607.5h1M691 607.5h1M701 607.5h1M708 607.5h1M710 607.5h1M718 607.5h1M774 607.5h7M811 607.5h1M908 607.5h1M913 607.5h1M1045 607.5h2M1057 607.5h2M1102 607.5h1M1125 607.5h2M1147 607.5h1M1150 607.5h1M1192 607.5h3M155 608.5h2M161 608.5h3M225 608.5h1M308 608.5h1M314 608.5h2M423 608.5h1M441 608.5h1M476 608.5h8M490 608.5h1M502 608.5h5M684 608.5h1M688 608.5h3M709 608.5h1M812 608.5h1M848 608.5h1M907 608.5h1M914 608.5h1M1047 608.5h2M1056 608.5h1M1059 608.5h1M1103 608.5h2M1118 608.5h1M1123 608.5h2M1127 608.5h1M1144 608.5h3M1151 608.5h1M1195 608.5h3M1230 608.5h3M153 609.5h2M164 609.5h10M226 609.5h2M257 609.5h1M306 609.5h2M316 609.5h2M422 609.5h1M442 609.5h2M466 609.5h1M474 609.5h2M484 609.5h1M487 609.5h1M501 609.5h1M507 609.5h1M685 609.5h3M813 609.5h1M849 609.5h1M906 609.5h1M937 609.5h5M1037 609.5h1M1049 609.5h7M1105 609.5h1M1119 609.5h2M1122 609.5h1M1128 609.5h1M1143 609.5h1M1152 609.5h1M1198 609.5h2M1229 609.5h1M174 610.5h1M228 610.5h1M258 610.5h2M267 610.5h1M293 610.5h1M305 610.5h1M385 610.5h3M402 610.5h5M444 610.5h1M448 610.5h3M464 610.5h2M467 610.5h1M473 610.5h1M485 610.5h2M499 610.5h2M508 610.5h1M574 610.5h1M814 610.5h3M905 610.5h1M920 610.5h3M929 610.5h2M935 610.5h2M942 610.5h1M1106 610.5h1M1121 610.5h1M1142 610.5h1M1153 610.5h1M1200 610.5h1M175 611.5h2M229 611.5h2M234 611.5h1M260 611.5h2M265 611.5h2M294 611.5h1M304 611.5h1M383 611.5h2M388 611.5h4M399 611.5h3M407 611.5h4M445 611.5h3M451 611.5h2M463 611.5h1M472 611.5h1M498 611.5h1M509 611.5h1M575 611.5h3M817 611.5h3M904 611.5h1M916 611.5h1M919 611.5h1M923 611.5h2M927 611.5h2M931 611.5h1M934 611.5h1M1061 611.5h1M1107 611.5h1M1154 611.5h1M1201 611.5h2M231 612.5h2M262 612.5h3M295 612.5h1M302 612.5h2M381 612.5h2M392 612.5h1M396 612.5h3M411 612.5h2M420 612.5h1M453 612.5h5M461 612.5h2M470 612.5h2M492 612.5h1M496 612.5h2M546 612.5h1M578 612.5h2M820 612.5h1M903 612.5h1M917 612.5h2M925 612.5h2M932 612.5h2M1062 612.5h1M1108 612.5h1M1116 612.5h1M1140 612.5h1M1203 612.5h1M1212 612.5h6M1227 612.5h1M300 613.5h2M379 613.5h2M393 613.5h3M413 613.5h1M419 613.5h1M458 613.5h3M469 613.5h1M495 613.5h1M547 613.5h1M580 613.5h1M821 613.5h1M837 613.5h4M876 613.5h2M902 613.5h1M944 613.5h1M1035 613.5h1M1204 613.5h2M1211 613.5h1M1218 613.5h1M1226 613.5h1M298 614.5h2M320 614.5h1M414 614.5h1M494 614.5h1M558 614.5h1M581 614.5h2M822 614.5h2M835 614.5h2M875 614.5h1M901 614.5h1M945 614.5h1M1206 614.5h5M1225 614.5h1M297 615.5h1M415 615.5h2M556 615.5h2M559 615.5h1M583 615.5h1M666 615.5h1M824 615.5h1M828 615.5h7M874 615.5h1M900 615.5h1M946 615.5h2M953 615.5h1M1033 615.5h1M1064 615.5h1M1110 615.5h1M334 616.5h2M417 616.5h1M549 616.5h1M555 616.5h1M560 616.5h1M584 616.5h2M630 616.5h1M667 616.5h2M677 616.5h1M787 616.5h1M804 616.5h1M825 616.5h1M827 616.5h1M879 616.5h1M899 616.5h1M948 616.5h2M951 616.5h2M954 616.5h2M1032 616.5h1M1065 616.5h2M1078 616.5h4M1089 616.5h1M1111 616.5h1M1114 616.5h1M1138 616.5h1M1220 616.5h1M1240 616.5h5M322 617.5h2M332 617.5h2M336 617.5h1M526 617.5h5M550 617.5h5M586 617.5h1M629 617.5h1M631 617.5h2M669 617.5h1M676 617.5h1M788 617.5h1M802 617.5h2M826 617.5h1M898 617.5h1M950 617.5h1M956 617.5h2M960 617.5h3M1030 617.5h2M1067 617.5h2M1076 617.5h2M1082 617.5h1M1088 617.5h1M1090 617.5h1M1112 617.5h1M1221 617.5h1M1223 617.5h1M1239 617.5h1M1245 617.5h4M324 618.5h3M330 618.5h2M531 618.5h1M587 618.5h1M599 618.5h4M627 618.5h2M633 618.5h1M670 618.5h1M800 618.5h2M897 618.5h1M958 618.5h2M963 618.5h2M1069 618.5h3M1074 618.5h2M1083 618.5h1M1087 618.5h1M1091 618.5h1M1095 618.5h2M1134 618.5h3M1222 618.5h1M1238 618.5h1M1249 618.5h1M327 619.5h3M514 619.5h1M532 619.5h3M562 619.5h1M588 619.5h2M598 619.5h1M603 619.5h2M622 619.5h2M626 619.5h1M634 619.5h1M671 619.5h1M793 619.5h3M798 619.5h2M881 619.5h9M896 619.5h1M965 619.5h5M1072 619.5h2M1084 619.5h1M1086 619.5h1M1092 619.5h1M1094 619.5h1M1250 619.5h2M338 620.5h1M515 620.5h1M535 620.5h4M590 620.5h2M596 620.5h2M605 620.5h1M620 620.5h2M624 620.5h2M635 620.5h2M672 620.5h1M674 620.5h1M790 620.5h3M796 620.5h2M890 620.5h1M895 620.5h1M970 620.5h3M1085 620.5h1M1093 620.5h1M1252 620.5h1M516 621.5h3M539 621.5h3M592 621.5h2M595 621.5h1M606 621.5h2M618 621.5h2M637 621.5h1M673 621.5h1M891 621.5h2M894 621.5h1M973 621.5h1M1022 621.5h1M1253 621.5h2M519 622.5h1M568 622.5h1M594 622.5h1M608 622.5h4M616 622.5h2M638 622.5h1M893 622.5h1M974 622.5h1M1006 622.5h8M1021 622.5h1M1023 622.5h1M1255 622.5h1M340 623.5h1M520 623.5h2M564 623.5h1M567 623.5h1M612 623.5h4M639 623.5h3M975 623.5h1M1014 623.5h1M1019 623.5h2M1024 623.5h2M1256 623.5h1M341 624.5h1M522 624.5h1M566 624.5h1M642 624.5h6M976 624.5h1M1015 624.5h2M1018 624.5h1M1026 624.5h1M1257 624.5h1M342 625.5h2M370 625.5h2M648 625.5h2M977 625.5h1M997 625.5h1M1017 625.5h1M344 626.5h2M352 626.5h2M369 626.5h1M372 626.5h1M650 626.5h1M659 626.5h2M978 626.5h1M990 626.5h3M996 626.5h1M346 627.5h2M350 627.5h2M354 627.5h2M367 627.5h2M651 627.5h1M657 627.5h2M979 627.5h1M989 627.5h1M993 627.5h3M999 627.5h1M348 628.5h2M356 628.5h2M366 628.5h1M652 628.5h2M656 628.5h1M980 628.5h1M988 628.5h1M358 629.5h8M654 629.5h2M981 629.5h1M986 629.5h2M982 630.5h2M985 630.5h1M984 631.5h1"/>
<rect x="5" y="715" width="1" height="4" fill="#c0c0c0"/>
<rect x="9" y="716" width="1" height="3" fill="#c0c0c0"/>
<rect x="13" y="715" width="1" height="4" fill="#c0c0c0"/>
<rect x="17" y="714" width="1" height="5" fill="#c0c0c0"/>
<rect x="21" y="713" width="1" height="6" fill="#c0c0c0"/>
<rect x="25" y="712" width="1" height="7" fill="#c0c0c0"/>
<rect x="29" y="711" width="1" height="8" fill="#c0c0c0"/>
<rect x="33" y="711" width="1" height="8" fill="#c0c0c0"/>
<rect x="37" y="711" width="1" height="8" fill="#c0c0c0"/>
<rect x="41" y="710" width="1" height="9" fill="#c0c0c0"/>
<rect x="45" y="710" width="1" height="9" fill="#c0c0c0"/>
<rect x="49" y="709" width="1" height="10" fill="#c0c0c0"/>
<rect x="53" y="706" width="1" height="13" fill="#c0c0c0"/>
<rect x="57" y="703" width="1" height="16" fill="#c0c0c0"/>
<rect x="61" y="700" width="1" height="19" fill="#c0c0c0"/>
<rect x="65" y="696" width="1" height="23" fill="#c0c0c0"/>
<rect x="69" y="691" width="1" height="28" fill="#c0c0c0"/>
<rect x="73" y="689" width="1" height="30" fill="#c0c0c0"/>
<rect x="77" y="687" width="1" height="32" fill="#c0c0c0"/>
<rect x="81" y="682" width="1" height="37" fill="#c0c0c0"/>
<rect x="85" y="674" width="1" height="45" fill="#c0c0c0"/>
<rect x="89" y="669" width="1" height="50" fill="#c0c0c0"/>
<rect x="93" y="668" width="1" height="51" fill="#c0c0c0"/>
<rect x="97" y="668" width="1" height="51" fill="#c0c0c0"/>
<rect x="101" y="670" width="1" height="49" fill="#c0c0c0"/>
<rect x="105" y="668" width="1" height="51" fill="#c0c0c0"/>
<rect x="109" y="669" width="1" height="50" fill="#c0c0c0"/>
<rect x="113" y="672" width="1" height="47" fill="#c0c0c0"/>
<rect x="117" y="678" width="1" height="41" fill="#c0c0c0"/>
<rect x="121" y="684" width="1" height="35" fill="#c0c0c0"/>
<rect x="125" y="686" width="1" height="33" fill="#c0c0c0"/>
<rect x="129" y="689" width="1" height="30" fill="#c0c0c0"/>
<rect x="133" y="690" width="1" height="29" fill="#c0c0c0"/>
<rect x="137" y="693" width="1" height="26" fill="#c0c0c0"/>
<rect x="141" y="695" width="1" height="24" fill="#c0c0c0"/>
<rect x="145" y="697" width="1" height="22" fill="#c0c0c0"/>
<rect x="149" y="699" width="1" height="20" fill="#c0c0c0"/>
<rect x="153" y="703" width="1" height="16" fill="#c0c0c0"/>
<rect x="157" y="706" width="1" height="13" fill="#c0c0c0"/>
<rect x="161" y="709" width="1" height="10" fill="#c0c0c0"/>
<rect x="165" y="712" width="1" height="7" fill="#c0c0c0"/>
<rect x="169" y="714" width="1" height="5" fill="#c0c0c0"/>
<rect x="173" y="715" width="1" height="4" fill="#c0c0c0"/>
<rect x="177" y="718" width="1" height="1" fill="#c0c0c0"/>
<rect x="181" y="717" width="1" height="2" fill="#c0c0c0"/>
<rect x="185" y="716" width="1" height="3" fill="#c0c0c0"/>
<rect x="189" y="715" width="1" height="4" fill="#c0c0c0"/>
<rect x="193" y="714" width="1" height="5" fill="#c0c0c0"/>
<rect x="197" y="713" width="1" height="6" fill="#c0c0c0"/>
<rect x="201" y="713" width="1" height="6" fill="#c0c0c0"/>
<rect x="205" y="714" width="1" height="5" fill="#c0c0c0"/>
<rect x="209" y="714" width="1" height="5" fill="#c0c0c0"/>
<rect x="213" y="715" width="1" height="4" fill="#c0c0c0"/>
<rect x="217" y="716" width="1" height="3" fill="#c0c0c0"/>
<rect x="221" y="717" width="1" height="2" fill="#c0c0c0"/>
<rect x="225" y="718" width="1" height="1" fill="#c0c0c0"/>
<rect x="229" y="718" width="1" height="2" fill="#c0c0c0"/>
<rect x="233" y="718" width="1" height="3" fill="#c0c0c0"/>
<rect x="237" y="718" width="1" height="2" fill="#c0c0c0"/>
<rect x="241" y="718" width="1" height="1" fill="#c0c0c0"/>
<rect x="245" y="718" width="1" height="1" fill="#c0c0c0"/>
<rect x="249" y="718" width="1" height="2" fill="#c0c0c0"/>
<rect x="253" y="718" width="1" height="1" fill="#c0c0c0"/>
<rect x="257" y="718" width="1" height="2" fill="#c0c0c0"/>
<rect x="261" y="718" width="1" height="3" fill="#c0c0c0"/>
<rect x="265" y="718" width="1" height="3" fill="#c0c0c0"/>
<rect x="269" y="718" width="1" height="2" fill="#c0c0c0"/>
<rect x="273" y="718" width="1" height="2" fill="#c0c0c0"/>
<rect x="277" y="718" width="1" height="2" fill="#c0c0c0"/>
<rect x="281" y="718" width="1" height="1" fill="#c0c0c0"/>
<rect x="285" y="718" width="1" height="1" fill="#c0c0c0"/>
<rect x="289" y="717" width="1" height="2" fill="#c0c0c0"/>
<rect x="293" y="718" width="1" height="1" fill="#c0c0c0"/>
<rect x="297" y="718" width="1" height="2" fill="#c0c0c0"/>
<rect x="301" y="718" width="1" height="2" fill="#c0c0c0"/>
<rect x="305" y="718" width="1" height="4" fill="#c0c0c0"/>
<rect x="309" y="718" width="1" height="3" fill="#c0c0c0"/>
<rect x="313" y="718" width="1" height="4" fill="#c0c0c0"/>
<rect x="317" y="718" width="1" height="4" fill="#c0c0c0"/>
<rect x="321" y="718" width="1" height="5" fill="#c0c0c0"/>
<rect x="325" y="718" width="1" height="8" fill="#c0c0c0"/>
<rect x="329" y="718" width="1" height="11" fill="#c0c0c0"/>
<rect x="333" y="718" width="1" height="10" fill="#c0c0c0"/>
<rect x="337" y="718" width="1" height="13" fill="#c0c0c0"/>
<rect x="341" y="718" width="1" height="16" fill="#c0c0c0"/>
<rect x="345" y="718" width="1" height="19" fill="#c0c0c0"/>
<rect x="349" y="718" width="1" height="22" fill="#c0c0c0"/>
<rect x="353" y="718" width="1" height="24" fill="#c0c0c0"/>
<rect x="357" y="718" width="1" height="26" fill="#c0c0c0"/>
<rect x="361" y="718" width="1" height="28" fill="#c0c0c0"/>
<rect x="365" y="718" width="1" height="30" fill="#c0c0c0"/>
<rect x="369" y="718" width="1" height="30" fill="#c0c0c0"/>
<rect x="373" y="718" width="1" height="30" fill="#c0c0c0"/>
<rect x="377" y="718" width="1" height="27" fill="#c0c0c0"/>
<rect x="381" y="718" width="1" height="26" fill="#c0c0c0"/>
<rect x="385" y="718" width="1" height="22" fill="#c0c0c0"/>
<rect x="389" y="718" width="1" height="20" fill="#c0c0c0"/>
<rect x="393" y="718" width="1" height="18" fill="#c0c0c0"/>
<rect x="397" y="718" width="1" height="16" fill="#c0c0c0"/>
<rect x="401" y="718" width="1" height="15" fill="#c0c0c0"/>
<rect x="405" y="718" width="1" height="14" fill="#c0c0c0"/>
<rect x="409" y="718" width="1" height="13" fill="#c0c0c0"/>
<rect x="413" y="718" width="1" height="12" fill="#c0c0c0"/>
<rect x="417" y="718" width="1" height="11" fill="#c0c0c0"/>
<rect x="421" y="718" width="1" height="10" fill="#c0c0c0"/>
<rect x="425" y="718" width="1" height="8" fill="#c0c0c0"/>
<rect x="429" y="718" width="1" height="7" fill="#c0c0c0"/>
<rect x="433" y="718" width="1" height="5" fill="#c0c0c0"/>
<rect x="437" y="718" width="1" height="4" fill="#c0c0c0"/>
<rect x="441" y="718" width="1" height="4" fill="#c0c0c0"/>
<rect x="445" y="718" width="1" height="4" fill="#c0c0c0"/>
<rect x="449" y="718" width="1" height="4" fill="#c0c0c0"/>
<rect x="453" y="718" width="1" height="5" fill="#c0c0c0"/>
<rect x="457" y="718" width="1" height="4" fill="#c0c0c0"/>
<rect x="461" y="718" width="1" height="4" fill="#c0c0c0"/>
<rect x="465" y="718" width="1" height="4" fill="#c0c0c0"/>
<rect x="469" y="718" width="1" height="5" fill="#c0c0c0"/>
<rect x="473" y="718" width="1" height="5" fill="#c0c0c0"/>
<rect x="477" y="718" width="1" height="4" fill="#c0c0c0"/>
<rect x="481" y="718" width="1" height="5" fill="#c0c0c0"/>
<rect x="485" y="718" width="1" height="5" fill="#c0c0c0"/>
<rect x="489" y="718" width="1" height="5" fill="#c0c0c0"/>
<rect x="493" y="718" width="1" height="4" fill="#c0c0c0"/>
<rect x="497" y="718" width="1" height="5" fill="#c0c0c0"/>
<rect x="501" y="718" width="1" height="4" fill="#c0c0c0"/>
<rect x="505" y="718" width="1" height="4" fill="#c0c0c0"/>
<rect x="509" y="718" width="1" height="5" fill="#c0c0c0"/>
<rect x="513" y="718" width="1" height="5" fill="#c0c0c0"/>
<rect x="517" y="718" width="1" height="7" fill="#c0c0c0"/>
<rect x="521" y="718" width="1" height="10" fill="#c0c0c0"/>
<rect x="525" y="718" width="1" height="9" fill="#c0c0c0"/>
<rect x="529" y="718" width="1" height="9" fill="#c0c0c0"/>
<rect x="533" y="718" width="1" height="11" fill="#c0c0c0"/>
<rect x="537" y="718" width="1" height="11" fill="#c0c0c0"/>
<rect x="541" y="718" width="1" height="11" fill="#c0c0c0"/>
<rect x="545" y="718" width="1" height="10" fill="#c0c0c0"/>
<rect x="549" y="718" width="1" height="11" fill="#c0c0c0"/>
<rect x="553" y="718" width="1" height="11" fill="#c0c0c0"/>
<rect x="557" y="718" width="1" height="11" fill="#c0c0c0"/>
<rect x="561" y="718" width="1" height="11" fill="#c0c0c0"/>
<rect x="565" y="718" width="1" height="12" fill="#c0c0c0"/>
<rect x="569" y="718" width="1" height="12" fill="#c0c0c0"/>
<rect x="573" y="718" width="1" height="12" fill="#c0c0c0"/>
<rect x="577" y="718" width="1" height="12" fill="#c0c0c0"/>
<rect x="581" y="718" width="1" height="12" fill="#c0c0c0"/>
<rect x="585" y="718" width="1" height="12" fill="#c0c0c0"/>
<rect x="589" y="718" width="1" height="12" fill="#c0c0c0"/>
<rect x="593" y="718" width="1" height="13" fill="#c0c0c0"/>
<rect x="597" y="718" width="1" height="13" fill="#c0c0c0"/>
<rect x="601" y="718" width="1" height="13" fill="#c0c0c0"/>
<rect x="605" y="718" width="1" height="13" fill="#c0c0c0"/>
<rect x="609" y="718" width="1" height="13" fill="#c0c0c0"/>
<rect x="613" y="718" width="1" height="14" fill="#c0c0c0"/>
<rect x="617" y="718" width="1" height="14" fill="#c0c0c0"/>
<rect x="621" y="718" width="1" height="14" fill="#c0c0c0"/>
<rect x="625" y="718" width="1" height="14" fill="#c0c0c0"/>
<rect x="629" y="718" width="1" height="14" fill="#c0c0c0"/>
<rect x="633" y="718" width="1" height="14" fill="#c0c0c0"/>
<rect x="637" y="718" width="1" height="15" fill="#c0c0c0"/>
<rect x="641" y="718" width="1" height="15" fill="#c0c0c0"/>
<rect x="645" y="718" width="1" height="15" fill="#c0c0c0"/>
<rect x="649" y="718" width="1" height="15" fill="#c0c0c0"/>
<rect x="653" y="718" width="1" height="16" fill="#c0c0c0"/>
<rect x="657" y="718" width="1" height="16" fill="#c0c0c0"/>
<rect x="661" y="718" width="1" height="16" fill="#c0c0c0"/>
<rect x="665" y="718" width="1" height="16" fill="#c0c0c0"/>
<rect x="669" y="718" width="1" height="15" fill="#c0c0c0"/>
<rect x="673" y="718" width="1" height="15" fill="#c0c0c0"/>
<rect x="677" y="718" width="1" height="14" fill="#c0c0c0"/>
<rect x="681" y="718" width="1" height="12" fill="#c0c0c0"/>
<rect x="685" y="718" width="1" height="11" fill="#c0c0c0"/>
<rect x="689" y="718" width="1" height="9" fill="#c0c0c0"/>
<rect x="693" y="718" width="1" height="7" fill="#c0c0c0"/>
<rect x="697" y="718" width="1" height="5" fill="#c0c0c0"/>
<rect x="701" y="718" width="1" height="5" fill="#c0c0c0"/>
<rect x="705" y="718" width="1" height="4" fill="#c0c0c0"/>
<rect x="709" y="718" width="1" height="3" fill="#c0c0c0"/>
<rect x="713" y="718" width="1" height="3" fill="#c0c0c0"/>
<rect x="717" y="718" width="1" height="3" fill="#c0c0c0"/>
<rect x="721" y="718" width="1" height="2" fill="#c0c0c0"/>
<rect x="725" y="718" width="1" height="1" fill="#c0c0c0"/>
<rect x="729" y="717" width="1" height="2" fill="#c0c0c0"/>
<rect x="733" y="715" width="1" height="4" fill="#c0c0c0"/>
<rect x="737" y="713" width="1" height="6" fill="#c0c0c0"/>
<rect x="741" y="711" width="1" height="8" fill="#c0c0c0"/>
<rect x="745" y="710" width="1" height="9" fill="#c0c0c0"/>
<rect x="749" y="709" width="1" height="10" fill="#c0c0c0"/>
<rect x="753" y="709" width="1" height="10" fill="#c0c0c0"/>
<rect x="757" y="709" width="1" height="10" fill="#c0c0c0"/>
<rect x="761" y="710" width="1" height="9" fill="#c0c0c0"/>
<rect x="765" y="711" width="1" height="8" fill="#c0c0c0"/>
<rect x="769" y="712" width="1" height="7" fill="#c0c0c0"/>
<rect x="773" y="714" width="1" height="5" fill="#c0c0c0"/>
<rect x="777" y="715" width="1" height="4" fill="#c0c0c0"/>
<rect x="781" y="717" width="1" height="2" fill="#c0c0c0"/>
<rect x="785" y="718" width="1" height="1" fill="#c0c0c0"/>
<rect x="789" y="718" width="1" height="2" fill="#c0c0c0"/>
<rect x="793" y="718" width="1" height="4" fill="#c0c0c0"/>
<rect x="797" y="718" width="1" height="5" fill="#c0c0c0"/>
<rect x="801" y="718" width="1" height="6" fill="#c0c0c0"/>
<rect x="805" y="718" width="1" height="6" fill="#c0c0c0"/>
<rect x="809" y="718" width="1" height="5" fill="#c0c0c0"/>
<rect x="813" y="718" width="1" height="5" fill="#c0c0c0"/>
<rect x="817" y="718" width="1" height="5" fill="#c0c0c0"/>
<rect x="821" y="718" width="1" height="6" fill="#c0c0c0"/>
<rect x="825" y="718" width="1" height="6" fill="#c0c0c0"/>
<rect x="853" y="718" width="1" height="4" fill="#c0c0c0"/>
<rect x="857" y="718" width="1" height="2" fill="#c0c0c0"/>
<rect x="861" y="717" width="1" height="2" fill="#c0c0c0"/>
<rect x="865" y="716" width="1" height="3" fill="#c0c0c0"/>
<rect x="869" y="715" width="1" height="4" fill="#c0c0c0"/>
<rect x="873" y="717" width="1" height="2" fill="#c0c0c0"/>
<rect x="877" y="718" width="1" height="1" fill="#c0c0c0"/>
<rect x="881" y="718" width="1" height="4" fill="#c0c0c0"/>
<rect x="885" y="718" width="1" height="5" fill="#c0c0c0"/>
<rect x="889" y="718" width="1" height="7" fill="#c0c0c0"/>
<rect x="893" y="718" width="1" height="9" fill="#c0c0c0"/>
<rect x="897" y="718" width="1" height="11" fill="#c0c0c0"/>
<rect x="901" y="718" width="1" height="9" fill="#c0c0c0"/>
<rect x="905" y="718" width="1" height="8" fill="#c0c0c0"/>
<rect x="909" y="718" width="1" height="7" fill="#c0c0c0"/>
<rect x="913" y="718" width="1" height="7" fill="#c0c0c0"/>
<rect x="917" y="718" width="1" height="7" fill="#c0c0c0"/>
<rect x="921" y="718" width="1" height="7" fill="#c0c0c0"/>
<rect x="925" y="718" width="1" height="6" fill="#c0c0c0"/>
<rect x="929" y="718" width="1" height="7" fill="#c0c0c0"/>
<rect x="933" y="718" width="1" height="7" fill="#c0c0c0"/>
<rect x="937" y="718" width="1" height="6" fill="#c0c0c0"/>
<rect x="941" y="718" width="1" height="6" fill="#c0c0c0"/>
<rect x="945" y="718" width="1" height="6" fill="#c0c0c0"/>
<rect x="949" y="718" width="1" height="7" fill="#c0c0c0"/>
<rect x="953" y="718" width="1" height="7" fill="#c0c0c0"/>
<rect x="957" y="718" width="1" height="7" fill="#c0c0c0"/>
<rect x="961" y="718" width="1" height="8" fill="#c0c0c0"/>
<rect x="965" y="718" width="1" height="8" fill="#c0c0c0"/>
<rect x="969" y="718" width="1" height="9" fill="#c0c0c0"/>
<rect x="973" y="718" width="1" height="9" fill="#c0c0c0"/>
<rect x="977" y="718" width="1" height="11" fill="#c0c0c0"/>
<rect x="981" y="718" width="1" height="13" fill="#c0c0c0"/>
<rect x="985" y="718" width="1" height="14" fill="#c0c0c0"/>
<rect x="989" y="718" width="1" height="16" fill="#c0c0c0"/>
<rect x="993" y="718" width="1" height="16" fill="#c0c0c0"/>
<rect x="997" y="718" width="1" height="17" fill="#c0c0c0"/>
<rect x="1001" y="718" width="1" height="18" fill="#c0c0c0"/>
<rect x="1005" y="718" width="1" height="18" fill="#c0c0c0"/>
<rect x="1009" y="718" width="1" height="18" fill="#c0c0c0"/>
<rect x="1013" y="718" width="1" height="17" fill="#c0c0c0"/>
<rect x="1017" y="718" width="1" height="17" fill="#c0c0c0"/>
<rect x="1021" y="718" width="1" height="17" fill="#c0c0c0"/>
<rect x="1025" y="718" width="1" height="17" fill="#c0c0c0"/>
<rect x="1029" y="718" width="1" height="16" fill="#c0c0c0"/>
<rect x="1033" y="718" width="1" height="15" fill="#c0c0c0"/>
<rect x="1037" y="718" width="1" height="13" fill="#c0c0c0"/>
<rect x="1041" y="718" width="1" height="11" fill="#c0c0c0"/>
<rect x="1045" y="718" width="1" height="9" fill="#c0c0c0"/>
<rect x="1049" y="718" width="1" height="7" fill="#c0c0c0"/>
<rect x="1053" y="718" width="1" height="7" fill="#c0c0c0"/>
<rect x="1057" y="718" width="1" height="6" fill="#c0c0c0"/>
<rect x="1061" y="718" width="1" height="7" fill="#c0c0c0"/>
<rect x="1065" y="718" width="1" height="8" fill="#c0c0c0"/>
<rect x="1069" y="718" width="1" height="9" fill="#c0c0c0"/>
<rect x="1073" y="718" width="1" height="9" fill="#c0c0c0"/>
<rect x="1077" y="718" width="1" height="9" fill="#c0c0c0"/>
<rect x="1081" y="718" width="1" height="9" fill="#c0c0c0"/>
<rect x="1085" y="718" width="1" height="9" fill="#c0c0c0"/>
<rect x="1089" y="718" width="1" height="10" fill="#c0c0c0"/>
<rect x="1093" y="718" width="1" height="9" fill="#c0c0c0"/>
<rect x="1097" y="718" width="1" height="9" fill="#c0c0c0"/>
<rect x="1101" y="718" width="1" height="9" fill="#c0c0c0"/>
<rect x="1105" y="718" width="1" height="9" fill="#c0c0c0"/>
<rect x="1109" y="718" width="1" height="9" fill="#c0c0c0"/>
<rect x="1113" y="718" width="1" height="8" fill="#c0c0c0"/>
<rect x="1117" y="718" width="1" height="8" fill="#c0c0c0"/>
<rect x="1121" y="718" width="1" height="7" fill="#c0c0c0"/>
<rect x="1125" y="718" width="1" height="6" fill="#c0c0c0"/>
<rect x="1129" y="718" width="1" height="7" fill="#c0c0c0"/>
<rect x="1133" y="718" width="1" height="7" fill="#c0c0c0"/>
<rect x="1137" y="718" width="1" height="7" fill="#c0c0c0"/>
<rect x="1141" y="718" width="1" height="7" fill="#c0c0c0"/>
<rect x="1145" y="718" width="1" height="6" fill="#c0c0c0"/>
<rect x="1149" y="718" width="1" height="6" fill="#c0c0c0"/>
<rect x="1153" y="718" width="1" height="5" fill="#c0c0c0"/>
<rect x="1157" y="718" width="1" height="5" fill="#c0c0c0"/>
<rect x="1161" y="718" width="1" height="4" fill="#c0c0c0"/>
<rect x="1165" y="718" width="1" height="2" fill="#c0c0c0"/>
<rect x="1169" y="718" width="1" height="1" fill="#c0c0c0"/>
<rect x="1173" y="717" width="1" height="2" fill="#c0c0c0"/>
<rect x="1177" y="717" width="1" height="2" fill="#c0c0c0"/>
<rect x="1181" y="717" width="1" height="2" fill="#c0c0c0"/>
<rect x="1185" y="716" width="1" height="3" fill="#c0c0c0"/>
<rect x="1189" y="717" width="1" height="2" fill="#c0c0c0"/>
<rect x="1193" y="717" width="1" height="2" fill="#c0c0c0"/>
<rect x="1197" y="717" width="1" height="2" fill="#c0c0c0"/>
<rect x="1201" y="717" width="1" height="2" fill="#c0c0c0"/>
<rect x="1205" y="718" width="1" height="1" fill="#c0c0c0"/>
<rect x="1209" y="718" width="1" height="2" fill="#c0c0c0"/>
<rect x="1213" y="718" width="1" height="3" fill="#c0c0c0"/>
<rect x="1217" y="718" width="1" height="4" fill="#c0c0c0"/>
<rect x="1221" y="718" width="1" height="5" fill="#c0c0c0"/>
<rect x="1225" y="718" width="1" height="4" fill="#c0c0c0"/>
<rect x="1229" y="718" width="1" height="4" fill="#c0c0c0"/>
<rect x="1233" y="718" width="1" height="4" fill="#c0c0c0"/>
<rect x="1237" y="718" width="1" height="5" fill="#c0c0c0"/>
<rect x="1241" y="718" width="1" height="5" fill="#c0c0c0"/>
<rect x="1245" y="718" width="1" height="6" fill="#c0c0c0"/>
<rect x="1249" y="718" width="1" height="7" fill="#c0c0c0"/>
<rect x="1253" y="718" width="1" height="9" fill="#c0c0c0"/>
<rect x="1257" y="718" width="1" height="10" fill="#c0c0c0"/>
<path fill="none" stroke="#ff0000" stroke-width="1" d="M119 669.5h2M113 670.5h3M121 670.5h1M109 671.5h1M125 671.5h1M107 672.5h2M126 672.5h2M103 674.5h1M102 675.5h1M131 675.5h1M101 676.5h1M132 676.5h1M133 677.5h1M97 680.5h1M137 680.5h1M96 681.5h1M138 681.5h1M95 682.5h1M139 682.5h1M143 685.5h2M91 686.5h1M145 686.5h1M90 687.5h1M89 688.5h1M149 689.5h1M150 690.5h2M85 691.5h1M84 692.5h1M83 693.5h1M155 693.5h1M156 694.5h2M79 696.5h1M77 697.5h2M161 697.5h2M163 698.5h1M73 700.5h1M72 701.5h1M167 701.5h2M71 702.5h1M169 702.5h1M67 704.5h1M173 704.5h1M65 705.5h2M174 705.5h2M61 707.5h1M59 708.5h2M179 708.5h3M54 709.5h2M49 710.5h1M53 710.5h1M185 710.5h1M763 710.5h1M767 710.5h3M773 710.5h3M779 710.5h1M43 711.5h1M47 711.5h2M186 711.5h2M756 711.5h2M761 711.5h2M780 711.5h2M36 712.5h2M41 712.5h2M191 712.5h1M755 712.5h1M785 712.5h2M5 713.5h3M30 713.5h2M35 713.5h1M192 713.5h2M751 713.5h1M787 713.5h1M23 714.5h3M29 714.5h1M197 714.5h3M749 714.5h2M791 714.5h1M11 715.5h3M17 715.5h3M203 715.5h3M209 715.5h3M215 715.5h3M221 715.5h3M227 715.5h3M233 715.5h3M744 715.5h2M792 715.5h2M239 716.5h3M743 716.5h1M797 716.5h2M245 717.5h3M251 717.5h2M737 717.5h3M799 717.5h1M1195 717.5h1M1199 717.5h3M1205 717.5h3M1211 717.5h3M253 718.5h1M257 718.5h3M263 718.5h3M803 718.5h3M1189 718.5h1M1193 718.5h2M1217 718.5h3M269 719.5h3M275 719.5h3M281 719.5h3M287 719.5h3M293 719.5h3M299 719.5h3M732 719.5h2M809 719.5h2M869 719.5h3M875 719.5h3M881 719.5h3M887 719.5h3M1182 719.5h2M1187 719.5h2M1223 719.5h3M305 720.5h3M311 720.5h3M317 720.5h3M731 720.5h1M811 720.5h1M815 720.5h2M863 720.5h3M893 720.5h2M1175 720.5h3M1181 720.5h1M1229 720.5h3M323 721.5h1M725 721.5h3M817 721.5h1M895 721.5h1M1171 721.5h1M1235 721.5h3M324 722.5h2M455 722.5h3M461 722.5h3M467 722.5h3M473 722.5h3M479 722.5h3M485 722.5h3M491 722.5h3M497 722.5h3M503 722.5h3M509 722.5h3M515 722.5h3M719 722.5h3M821 722.5h3M857 722.5h3M899 722.5h2M1169 722.5h2M1241 722.5h3M450 723.5h2M521 723.5h3M714 723.5h2M827 723.5h3M833 723.5h3M839 723.5h3M845 723.5h3M851 723.5h3M901 723.5h1M1163 723.5h3M1247 723.5h3M1253 723.5h1M329 724.5h2M449 724.5h1M527 724.5h3M713 724.5h1M905 724.5h3M935 724.5h3M941 724.5h3M947 724.5h3M953 724.5h3M959 724.5h3M965 724.5h1M1133 724.5h3M1139 724.5h3M1145 724.5h3M1151 724.5h3M1157 724.5h3M1254 724.5h2M331 725.5h1M445 725.5h1M533 725.5h1M709 725.5h1M911 725.5h3M917 725.5h3M923 725.5h3M929 725.5h3M966 725.5h2M971 725.5h3M1069 725.5h1M1073 725.5h3M1079 725.5h3M1085 725.5h3M1121 725.5h3M1127 725.5h3M335 726.5h3M443 726.5h2M534 726.5h2M707 726.5h2M977 726.5h3M1067 726.5h2M1091 726.5h3M1097 726.5h3M1103 726.5h3M1109 726.5h3M1115 726.5h3M341 727.5h3M539 727.5h3M701 727.5h3M983 727.5h2M347 728.5h2M437 728.5h3M545 728.5h3M551 728.5h3M557 728.5h1M695 728.5h3M985 728.5h1M1061 728.5h3M349 729.5h1M431 729.5h3M558 729.5h2M563 729.5h3M569 729.5h3M575 729.5h3M581 729.5h3M587 729.5h3M593 729.5h3M599 729.5h3M989 729.5h3M1055 729.5h3M427 730.5h1M605 730.5h3M611 730.5h3M689 730.5h3M995 730.5h3M1050 730.5h2M353 731.5h1M425 731.5h2M617 731.5h3M623 731.5h3M629 731.5h3M635 731.5h3M641 731.5h3M683 731.5h3M1001 731.5h2M1044 731.5h2M1049 731.5h1M354 732.5h2M647 732.5h3M653 732.5h3M659 732.5h3M665 732.5h3M671 732.5h3M677 732.5h3M1003 732.5h1M1007 732.5h1M1043 732.5h1M419 733.5h3M1008 733.5h2M1013 733.5h3M1037 733.5h3M359 734.5h1M415 734.5h1M1019 734.5h3M1025 734.5h3M1031 734.5h3M360 735.5h1M413 735.5h2M361 736.5h1M408 736.5h2M407 737.5h1M365 739.5h2M402 739.5h2M367 740.5h1M401 740.5h1M371 741.5h1M397 741.5h1M372 742.5h2M395 742.5h2M377 744.5h3M383 744.5h1M390 744.5h2M384 745.5h2M389 745.5h1"/>
<rect x="4" y="29" width="1578" height="1" fill="#000"/>
<rect x="4" y="556" width="1578" height="1" fill="#000"/>
<rect x="4" y="29" width="1" height="528" fill="#000"/>
<rect x="1581" y="29" width="1" height="528" fill="#000"/>
<rect x="4" y="558" width="1578" height="1" fill="#000"/>
<rect x="4" y="653" width="1578" height="1" fill="#000"/>
<rect x="4" y="558" width="1" height="96" fill="#000"/>
<rect x="1581" y="558" width="1" height="96" fill="#000"/>
<rect x="4" y="656" width="1578" height="1" fill="#000"/>
<rect x="4" y="752" width="1578" height="1" fill="#000"/>
<rect x="4" y="656" width="1" height="97" fill="#000"/>
<rect x="1581" y="656" width="1" height="97" fill="#000"/>
<rect x="1582" y="58" width="2" height="1" fill="#000"/>
<rect x="1582" y="91" width="2" height="1" fill="#000"/>
<rect x="1582" y="124" width="2" height="1" fill="#000"/>
<rect x="1582" y="157" width="2" height="1" fill="#000"/>
<rect x="1582" y="190" width="2" height="1" fill="#000"/>
<rect x="1582" y="223" width="2" height="1" fill="#000"/>
<rect x="1582" y="256" width="2" height="1" fill="#000"/>
<rect x="1582" y="289" width="2" height="1" fill="#000"/>
<rect x="1582" y="322" width="2" height="1" fill="#000"/>
<rect x="1582" y="355" width="2" height="1" fill="#000"/>
<rect x="1582" y="388" width="2" height="1" fill="#000"/>
<rect x="1582" y="421" width="2" height="1" fill="#000"/>
<rect x="1582" y="454" width="2" height="1" fill="#000"/>
<rect x="1582" y="487" width="2" height="1" fill="#000"/>
<rect x="1582" y="520" width="2" height="1" fill="#000"/>
<rect x="1582" y="553" width="2" height="1" fill="#000"/>
<rect x="1582" y="718" width="2" height="1" fill="#000"/>
<rect x="5" y="753" width="1" height="3" fill="#000"/>
<rect x="69" y="753" width="1" height="3" fill="#000"/>
<rect x="133" y="753" width="1" height="3" fill="#000"/>
<rect x="197" y="753" width="1" height="3" fill="#000"/>
<rect x="261" y="753" width="1" height="3" fill="#000"/>
<rect x="325" y="753" width="1" height="3" fill="#000"/>
<rect x="389" y="753" width="1" height="3" fill="#000"/>
<rect x="453" y="753" width="1" height="3" fill="#000"/>
<rect x="517" y="753" width="1" height="3" fill="#000"/>
<rect x="581" y="753" width="1" height="3" fill="#000"/>
<rect x="645" y="753" width="1" height="3" fill="#000"/>
<rect x="709" y="753" width="1" height="3" fill="#000"/>
<rect x="773" y="753" width="1" height="3" fill="#000"/>
<rect x="837" y="753" width="1" height="3" fill="#000"/>
<rect x="901" y="753" width="1" height="3" fill="#000"/>
<rect x="965" y="753" width="1" height="3" fill="#000"/>
<rect x="1029" y="753" width="1" height="3" fill="#000"/>
<rect x="1093" y="753" width="1" height="3" fill="#000"/>
<rect x="1157" y="753" width="1" height="3" fill="#000"/>
<rect x="1221" y="753" width="1" height="3" fill="#000"/>
<polygon points="1259,30 1270,30 1264.5,35" fill="#c0c0c0"/></svg>
<div class="a" style="left:8px;top:36px;width:0;height:0;border-left:3.5px solid transparent;border-right:3.5px solid transparent;border-top:4.5px solid #000"></div>
<div class="t" style="left:19.5px;top:32px"><span style="display:inline-block;transform:scaleX(1.062);transform-origin:0 0">USDCAD,Daily</span><span style="display:inline-block;width:11.8px"></span>1.25641 1.25644 1.25041 1.25133</div>
<div class="t" style="left:9px;top:562px">RSI(14) 31.2864</div>
<div class="t" style="left:9px;top:660px;transform:scaleX(0.942)">MACD(12,26,9) -0.004953 -0.003044</div>
<div class="t" style="left:1587px;top:53px">1.46540</div>
<div class="t" style="left:1587px;top:86px">1.45060</div>
<div class="t" style="left:1587px;top:119px">1.43620</div>
<div class="t" style="left:1587px;top:152px">1.42140</div>
<div class="t" style="left:1587px;top:185px">1.40700</div>
<div class="t" style="left:1587px;top:218px">1.39220</div>
<div class="t" style="left:1587px;top:251px">1.37780</div>
<div class="t" style="left:1587px;top:284px">1.36300</div>
<div class="t" style="left:1587px;top:317px">1.34860</div>
<div class="t" style="left:1587px;top:350px">1.33380</div>
<div class="t" style="left:1587px;top:383px">1.31900</div>
<div class="t" style="left:1587px;top:416px">1.30460</div>
<div class="t" style="left:1587px;top:449px">1.28980</div>
<div class="t" style="left:1587px;top:482px">1.27540</div>
<div class="t" style="left:1587px;top:515px">1.26060</div>
<div class="t" style="left:1587px;top:548px">1.24620</div>
<div class="t" style="left:1585.2px;top:560px">100</div>
<div class="t" style="left:1584.3px;top:583px">70</div>
<div class="t" style="left:1584.3px;top:620px">30</div>
<div class="t" style="left:1585.2px;top:642px">0</div>
<div class="t" style="left:1585.4px;top:658px;transform:scaleX(0.90)">0.032972</div>
<div class="t" style="left:1585.4px;top:713px;transform:scaleX(0.90)">0.00</div>
<div class="t" style="left:1584.5px;top:740px;transform:scaleX(0.90)">-0.018154</div>
<div class="t" style="left:3.9px;top:756px">24 Feb 2020</div>
<div class="t" style="left:67.9px;top:756px">13 Mar 2020</div>
<div class="t" style="left:131.9px;top:756px">1 Apr 2020</div>
<div class="t" style="left:195.9px;top:756px">20 Apr 2020</div>
<div class="t" style="left:259.9px;top:756px">8 May 2020</div>
<div class="t" style="left:323.9px;top:756px">27 May 2020</div>
<div class="t" style="left:387.9px;top:756px">15 Jun 2020</div>
<div class="t" style="left:451.9px;top:756px">3 Jul 2020</div>
<div class="t" style="left:515.9px;top:756px">22 Jul 2020</div>
<div class="t" style="left:579.9px;top:756px">10 Aug 2020</div>
<div class="t" style="left:643.9px;top:756px">28 Aug 2020</div>
<div class="t" style="left:707.9px;top:756px">16 Sep 2020</div>
<div class="t" style="left:771.9px;top:756px">5 Oct 2020</div>
<div class="t" style="left:835.9px;top:756px">23 Oct 2020</div>
<div class="t" style="left:899.9px;top:756px">11 Nov 2020</div>
<div class="t" style="left:963.9px;top:756px">30 Nov 2020</div>
<div class="t" style="left:1027.9px;top:756px">18 Dec 2020</div>
<div class="t" style="left:1091.9px;top:756px">8 Jan 2021</div>
<div class="t" style="left:1155.9px;top:756px">27 Jan 2021</div>
<div class="t" style="left:1219.9px;top:756px">15 Feb 2021</div>
<div class="pl" style="top:330px;background:#ff0000"><span>1.34206</span></div>
<div class="pl" style="top:375px;background:#ff0000"><span>1.32237</span></div>
<div class="pl" style="top:416px;background:#ff0000"><span>1.30409</span></div>
<div class="pl" style="top:457px;background:#00ff00"><span>1.28607</span></div>
<div class="pl" style="top:510px;background:#0000ff"><span>1.26243</span></div>
<div class="pl" style="top:536px;background:#000000"><span>1.25133</span></div>
<div class="a" style="left:0;top:774px;width:1624px;height:1px;background:#dcdcdc"></div>
<div class="a" style="left:0;top:775px;width:1624px;height:1px;background:#000"></div>
<div class="a" style="left:0;top:776px;width:1624px;height:19px;background:#f0f0f0"></div>
<div class="a" style="left:0;top:776px;width:2px;height:18px;background:#a0a0a0"></div>
<div class="a" style="left:0;top:795px;width:1624px;height:4px;background:#fcfcfc"></div>
<div class="a" style="left:0;top:799px;width:1624px;height:1px;background:#c4c4c4"></div>
<div class="a" style="left:0;top:800px;width:1624px;height:2px;background:#e8e8e8"></div>
<div class="a" style="left:314px;top:775px;width:104px;height:19px;background:#fff;border:1px solid #000;border-top:none;box-sizing:border-box"></div>
<div class="tab" style="left:18.1px;letter-spacing:-0.018px">EURUSD,Daily</div>
<div class="tab" style="left:120.1px;letter-spacing:0.073px">USDCHF,Daily</div>
<div class="tab" style="left:220.9px;letter-spacing:0.100px">AUDUSD,Daily</div>
<div class="tab" style="left:325.3px;letter-spacing:-0.064px;color:#000">USDCAD,Daily</div>
<div class="tab" style="left:428.2px;letter-spacing:0.164px">USDCNH,Daily</div>
<div class="tab" style="left:533.9px;letter-spacing:-0.009px">EURUSD,Daily</div>
<div class="tab" style="left:638.0px;letter-spacing:-0.300px">GBPUSD,H4</div>
<div class="tab" style="left:729.1px;letter-spacing:-0.009px">XAUUSD,Daily</div>
<div class="tab" style="left:833.1px;letter-spacing:0.233px">HK50,H1</div>
<div class="tab" style="left:905.3px;letter-spacing:0.129px">UK100,H1</div>
<div class="tab" style="left:985.1px;letter-spacing:0.086px">UK100,H1</div>
<div class="tab" style="left:1065.5px;letter-spacing:-0.357px">GER30,H1</div>
<div class="tab" style="left:1144.2px;letter-spacing:-0.143px">FRA40,H1</div>
<div class="tab" style="left:1221.0px;letter-spacing:0.291px">USOil,Weekly</div>
<div class="tab" style="left:1320.0px;letter-spacing:-0.238px">USDJPY,H1</div>
<div class="tab" style="left:1404.0px;letter-spacing:0.089px">DJ30,Daily</div>
<div class="tab" style="left:1484.0px;letter-spacing:0.180px">CHINA300,H1</div>
<div class="tab" style="left:1584.3px;letter-spacing:0.000px">U</div>
<div class="sep" style="left:110px"></div>
<div class="sep" style="left:210px"></div>
<div class="sep" style="left:522px"></div>
<div class="sep" style="left:626px"></div>
<div class="sep" style="left:718px"></div>
<div class="sep" style="left:822px"></div>
<div class="sep" style="left:894px"></div>
<div class="sep" style="left:974px"></div>
<div class="sep" style="left:1054px"></div>
<div class="sep" style="left:1134px"></div>
<div class="sep" style="left:1210px"></div>
<div class="sep" style="left:1310px"></div>
<div class="sep" style="left:1394px"></div>
<div class="sep" style="left:1474px"></div>
<div class="sep" style="left:1574px"></div>
<div class="a" style="left:1591px;top:777px;width:5px;height:17px;background:#f0f0f0"></div>
<div class="a" style="left:1596.5px;top:782px;width:0;height:0;border-top:3px solid transparent;border-bottom:3px solid transparent;border-right:4px solid #9a9a9a"></div>
<div class="a" style="left:1616px;top:782px;width:0;height:0;border-top:3px solid transparent;border-bottom:3px solid transparent;border-left:4px solid #000"></div>
</body></html>
